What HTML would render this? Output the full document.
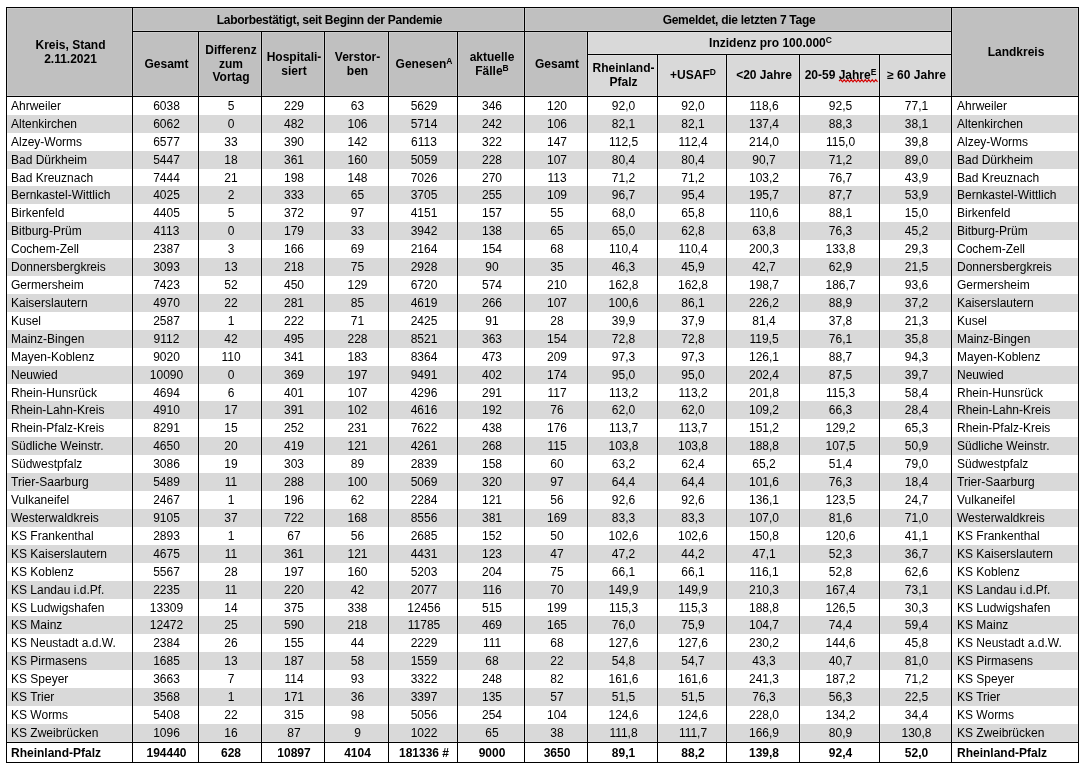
<!DOCTYPE html>
<html><head><meta charset="utf-8">
<style>
html,body{margin:0;padding:0;background:#fff;}
body{width:1086px;height:769px;position:relative;overflow:hidden;font-family:"Liberation Sans",sans-serif;font-size:12px;color:#000;}
.r{position:absolute;}
#w{position:absolute;left:0;top:0;width:1086px;height:769px;will-change:transform;}
.t{position:absolute;display:flex;align-items:center;box-sizing:border-box;line-height:13.8px;white-space:nowrap;}
.t>span{display:block;}
.b{font-weight:bold;}
.cal{font-weight:bold;letter-spacing:-0.28px;}
sup{font-size:8.5px;font-weight:bold;line-height:0;vertical-align:4px;}
</style></head><body><div id="w">
<div class="r" style="left:7px;top:8px;width:125px;height:88px;background:#c0c0c0;"></div>
<div class="r" style="left:133px;top:8px;width:818px;height:23px;background:#c0c0c0;"></div>
<div class="r" style="left:133px;top:32px;width:454px;height:64px;background:#c0c0c0;"></div>
<div class="r" style="left:588px;top:32px;width:363px;height:64px;background:#d9d9d9;"></div>
<div class="r" style="left:952px;top:8px;width:126px;height:88px;background:#c0c0c0;"></div>
<div class="r" style="left:7px;top:115px;width:125px;height:18px;background:#d9d9d9;"></div>
<div class="r" style="left:133px;top:115px;width:65px;height:18px;background:#d9d9d9;"></div>
<div class="r" style="left:199px;top:115px;width:62px;height:18px;background:#d9d9d9;"></div>
<div class="r" style="left:262px;top:115px;width:62px;height:18px;background:#d9d9d9;"></div>
<div class="r" style="left:325px;top:115px;width:63px;height:18px;background:#d9d9d9;"></div>
<div class="r" style="left:389px;top:115px;width:68px;height:18px;background:#d9d9d9;"></div>
<div class="r" style="left:458px;top:115px;width:66px;height:18px;background:#d9d9d9;"></div>
<div class="r" style="left:525px;top:115px;width:62px;height:18px;background:#d9d9d9;"></div>
<div class="r" style="left:588px;top:115px;width:69px;height:18px;background:#d9d9d9;"></div>
<div class="r" style="left:658px;top:115px;width:68px;height:18px;background:#d9d9d9;"></div>
<div class="r" style="left:727px;top:115px;width:72px;height:18px;background:#d9d9d9;"></div>
<div class="r" style="left:800px;top:115px;width:79px;height:18px;background:#d9d9d9;"></div>
<div class="r" style="left:880px;top:115px;width:71px;height:18px;background:#d9d9d9;"></div>
<div class="r" style="left:952px;top:115px;width:126px;height:18px;background:#d9d9d9;"></div>
<div class="r" style="left:7px;top:151px;width:125px;height:18px;background:#d9d9d9;"></div>
<div class="r" style="left:133px;top:151px;width:65px;height:18px;background:#d9d9d9;"></div>
<div class="r" style="left:199px;top:151px;width:62px;height:18px;background:#d9d9d9;"></div>
<div class="r" style="left:262px;top:151px;width:62px;height:18px;background:#d9d9d9;"></div>
<div class="r" style="left:325px;top:151px;width:63px;height:18px;background:#d9d9d9;"></div>
<div class="r" style="left:389px;top:151px;width:68px;height:18px;background:#d9d9d9;"></div>
<div class="r" style="left:458px;top:151px;width:66px;height:18px;background:#d9d9d9;"></div>
<div class="r" style="left:525px;top:151px;width:62px;height:18px;background:#d9d9d9;"></div>
<div class="r" style="left:588px;top:151px;width:69px;height:18px;background:#d9d9d9;"></div>
<div class="r" style="left:658px;top:151px;width:68px;height:18px;background:#d9d9d9;"></div>
<div class="r" style="left:727px;top:151px;width:72px;height:18px;background:#d9d9d9;"></div>
<div class="r" style="left:800px;top:151px;width:79px;height:18px;background:#d9d9d9;"></div>
<div class="r" style="left:880px;top:151px;width:71px;height:18px;background:#d9d9d9;"></div>
<div class="r" style="left:952px;top:151px;width:126px;height:18px;background:#d9d9d9;"></div>
<div class="r" style="left:7px;top:186px;width:125px;height:18px;background:#d9d9d9;"></div>
<div class="r" style="left:133px;top:186px;width:65px;height:18px;background:#d9d9d9;"></div>
<div class="r" style="left:199px;top:186px;width:62px;height:18px;background:#d9d9d9;"></div>
<div class="r" style="left:262px;top:186px;width:62px;height:18px;background:#d9d9d9;"></div>
<div class="r" style="left:325px;top:186px;width:63px;height:18px;background:#d9d9d9;"></div>
<div class="r" style="left:389px;top:186px;width:68px;height:18px;background:#d9d9d9;"></div>
<div class="r" style="left:458px;top:186px;width:66px;height:18px;background:#d9d9d9;"></div>
<div class="r" style="left:525px;top:186px;width:62px;height:18px;background:#d9d9d9;"></div>
<div class="r" style="left:588px;top:186px;width:69px;height:18px;background:#d9d9d9;"></div>
<div class="r" style="left:658px;top:186px;width:68px;height:18px;background:#d9d9d9;"></div>
<div class="r" style="left:727px;top:186px;width:72px;height:18px;background:#d9d9d9;"></div>
<div class="r" style="left:800px;top:186px;width:79px;height:18px;background:#d9d9d9;"></div>
<div class="r" style="left:880px;top:186px;width:71px;height:18px;background:#d9d9d9;"></div>
<div class="r" style="left:952px;top:186px;width:126px;height:18px;background:#d9d9d9;"></div>
<div class="r" style="left:7px;top:222px;width:125px;height:18px;background:#d9d9d9;"></div>
<div class="r" style="left:133px;top:222px;width:65px;height:18px;background:#d9d9d9;"></div>
<div class="r" style="left:199px;top:222px;width:62px;height:18px;background:#d9d9d9;"></div>
<div class="r" style="left:262px;top:222px;width:62px;height:18px;background:#d9d9d9;"></div>
<div class="r" style="left:325px;top:222px;width:63px;height:18px;background:#d9d9d9;"></div>
<div class="r" style="left:389px;top:222px;width:68px;height:18px;background:#d9d9d9;"></div>
<div class="r" style="left:458px;top:222px;width:66px;height:18px;background:#d9d9d9;"></div>
<div class="r" style="left:525px;top:222px;width:62px;height:18px;background:#d9d9d9;"></div>
<div class="r" style="left:588px;top:222px;width:69px;height:18px;background:#d9d9d9;"></div>
<div class="r" style="left:658px;top:222px;width:68px;height:18px;background:#d9d9d9;"></div>
<div class="r" style="left:727px;top:222px;width:72px;height:18px;background:#d9d9d9;"></div>
<div class="r" style="left:800px;top:222px;width:79px;height:18px;background:#d9d9d9;"></div>
<div class="r" style="left:880px;top:222px;width:71px;height:18px;background:#d9d9d9;"></div>
<div class="r" style="left:952px;top:222px;width:126px;height:18px;background:#d9d9d9;"></div>
<div class="r" style="left:7px;top:258px;width:125px;height:18px;background:#d9d9d9;"></div>
<div class="r" style="left:133px;top:258px;width:65px;height:18px;background:#d9d9d9;"></div>
<div class="r" style="left:199px;top:258px;width:62px;height:18px;background:#d9d9d9;"></div>
<div class="r" style="left:262px;top:258px;width:62px;height:18px;background:#d9d9d9;"></div>
<div class="r" style="left:325px;top:258px;width:63px;height:18px;background:#d9d9d9;"></div>
<div class="r" style="left:389px;top:258px;width:68px;height:18px;background:#d9d9d9;"></div>
<div class="r" style="left:458px;top:258px;width:66px;height:18px;background:#d9d9d9;"></div>
<div class="r" style="left:525px;top:258px;width:62px;height:18px;background:#d9d9d9;"></div>
<div class="r" style="left:588px;top:258px;width:69px;height:18px;background:#d9d9d9;"></div>
<div class="r" style="left:658px;top:258px;width:68px;height:18px;background:#d9d9d9;"></div>
<div class="r" style="left:727px;top:258px;width:72px;height:18px;background:#d9d9d9;"></div>
<div class="r" style="left:800px;top:258px;width:79px;height:18px;background:#d9d9d9;"></div>
<div class="r" style="left:880px;top:258px;width:71px;height:18px;background:#d9d9d9;"></div>
<div class="r" style="left:952px;top:258px;width:126px;height:18px;background:#d9d9d9;"></div>
<div class="r" style="left:7px;top:294px;width:125px;height:18px;background:#d9d9d9;"></div>
<div class="r" style="left:133px;top:294px;width:65px;height:18px;background:#d9d9d9;"></div>
<div class="r" style="left:199px;top:294px;width:62px;height:18px;background:#d9d9d9;"></div>
<div class="r" style="left:262px;top:294px;width:62px;height:18px;background:#d9d9d9;"></div>
<div class="r" style="left:325px;top:294px;width:63px;height:18px;background:#d9d9d9;"></div>
<div class="r" style="left:389px;top:294px;width:68px;height:18px;background:#d9d9d9;"></div>
<div class="r" style="left:458px;top:294px;width:66px;height:18px;background:#d9d9d9;"></div>
<div class="r" style="left:525px;top:294px;width:62px;height:18px;background:#d9d9d9;"></div>
<div class="r" style="left:588px;top:294px;width:69px;height:18px;background:#d9d9d9;"></div>
<div class="r" style="left:658px;top:294px;width:68px;height:18px;background:#d9d9d9;"></div>
<div class="r" style="left:727px;top:294px;width:72px;height:18px;background:#d9d9d9;"></div>
<div class="r" style="left:800px;top:294px;width:79px;height:18px;background:#d9d9d9;"></div>
<div class="r" style="left:880px;top:294px;width:71px;height:18px;background:#d9d9d9;"></div>
<div class="r" style="left:952px;top:294px;width:126px;height:18px;background:#d9d9d9;"></div>
<div class="r" style="left:7px;top:330px;width:125px;height:18px;background:#d9d9d9;"></div>
<div class="r" style="left:133px;top:330px;width:65px;height:18px;background:#d9d9d9;"></div>
<div class="r" style="left:199px;top:330px;width:62px;height:18px;background:#d9d9d9;"></div>
<div class="r" style="left:262px;top:330px;width:62px;height:18px;background:#d9d9d9;"></div>
<div class="r" style="left:325px;top:330px;width:63px;height:18px;background:#d9d9d9;"></div>
<div class="r" style="left:389px;top:330px;width:68px;height:18px;background:#d9d9d9;"></div>
<div class="r" style="left:458px;top:330px;width:66px;height:18px;background:#d9d9d9;"></div>
<div class="r" style="left:525px;top:330px;width:62px;height:18px;background:#d9d9d9;"></div>
<div class="r" style="left:588px;top:330px;width:69px;height:18px;background:#d9d9d9;"></div>
<div class="r" style="left:658px;top:330px;width:68px;height:18px;background:#d9d9d9;"></div>
<div class="r" style="left:727px;top:330px;width:72px;height:18px;background:#d9d9d9;"></div>
<div class="r" style="left:800px;top:330px;width:79px;height:18px;background:#d9d9d9;"></div>
<div class="r" style="left:880px;top:330px;width:71px;height:18px;background:#d9d9d9;"></div>
<div class="r" style="left:952px;top:330px;width:126px;height:18px;background:#d9d9d9;"></div>
<div class="r" style="left:7px;top:366px;width:125px;height:18px;background:#d9d9d9;"></div>
<div class="r" style="left:133px;top:366px;width:65px;height:18px;background:#d9d9d9;"></div>
<div class="r" style="left:199px;top:366px;width:62px;height:18px;background:#d9d9d9;"></div>
<div class="r" style="left:262px;top:366px;width:62px;height:18px;background:#d9d9d9;"></div>
<div class="r" style="left:325px;top:366px;width:63px;height:18px;background:#d9d9d9;"></div>
<div class="r" style="left:389px;top:366px;width:68px;height:18px;background:#d9d9d9;"></div>
<div class="r" style="left:458px;top:366px;width:66px;height:18px;background:#d9d9d9;"></div>
<div class="r" style="left:525px;top:366px;width:62px;height:18px;background:#d9d9d9;"></div>
<div class="r" style="left:588px;top:366px;width:69px;height:18px;background:#d9d9d9;"></div>
<div class="r" style="left:658px;top:366px;width:68px;height:18px;background:#d9d9d9;"></div>
<div class="r" style="left:727px;top:366px;width:72px;height:18px;background:#d9d9d9;"></div>
<div class="r" style="left:800px;top:366px;width:79px;height:18px;background:#d9d9d9;"></div>
<div class="r" style="left:880px;top:366px;width:71px;height:18px;background:#d9d9d9;"></div>
<div class="r" style="left:952px;top:366px;width:126px;height:18px;background:#d9d9d9;"></div>
<div class="r" style="left:7px;top:401px;width:125px;height:18px;background:#d9d9d9;"></div>
<div class="r" style="left:133px;top:401px;width:65px;height:18px;background:#d9d9d9;"></div>
<div class="r" style="left:199px;top:401px;width:62px;height:18px;background:#d9d9d9;"></div>
<div class="r" style="left:262px;top:401px;width:62px;height:18px;background:#d9d9d9;"></div>
<div class="r" style="left:325px;top:401px;width:63px;height:18px;background:#d9d9d9;"></div>
<div class="r" style="left:389px;top:401px;width:68px;height:18px;background:#d9d9d9;"></div>
<div class="r" style="left:458px;top:401px;width:66px;height:18px;background:#d9d9d9;"></div>
<div class="r" style="left:525px;top:401px;width:62px;height:18px;background:#d9d9d9;"></div>
<div class="r" style="left:588px;top:401px;width:69px;height:18px;background:#d9d9d9;"></div>
<div class="r" style="left:658px;top:401px;width:68px;height:18px;background:#d9d9d9;"></div>
<div class="r" style="left:727px;top:401px;width:72px;height:18px;background:#d9d9d9;"></div>
<div class="r" style="left:800px;top:401px;width:79px;height:18px;background:#d9d9d9;"></div>
<div class="r" style="left:880px;top:401px;width:71px;height:18px;background:#d9d9d9;"></div>
<div class="r" style="left:952px;top:401px;width:126px;height:18px;background:#d9d9d9;"></div>
<div class="r" style="left:7px;top:437px;width:125px;height:18px;background:#d9d9d9;"></div>
<div class="r" style="left:133px;top:437px;width:65px;height:18px;background:#d9d9d9;"></div>
<div class="r" style="left:199px;top:437px;width:62px;height:18px;background:#d9d9d9;"></div>
<div class="r" style="left:262px;top:437px;width:62px;height:18px;background:#d9d9d9;"></div>
<div class="r" style="left:325px;top:437px;width:63px;height:18px;background:#d9d9d9;"></div>
<div class="r" style="left:389px;top:437px;width:68px;height:18px;background:#d9d9d9;"></div>
<div class="r" style="left:458px;top:437px;width:66px;height:18px;background:#d9d9d9;"></div>
<div class="r" style="left:525px;top:437px;width:62px;height:18px;background:#d9d9d9;"></div>
<div class="r" style="left:588px;top:437px;width:69px;height:18px;background:#d9d9d9;"></div>
<div class="r" style="left:658px;top:437px;width:68px;height:18px;background:#d9d9d9;"></div>
<div class="r" style="left:727px;top:437px;width:72px;height:18px;background:#d9d9d9;"></div>
<div class="r" style="left:800px;top:437px;width:79px;height:18px;background:#d9d9d9;"></div>
<div class="r" style="left:880px;top:437px;width:71px;height:18px;background:#d9d9d9;"></div>
<div class="r" style="left:952px;top:437px;width:126px;height:18px;background:#d9d9d9;"></div>
<div class="r" style="left:7px;top:473px;width:125px;height:18px;background:#d9d9d9;"></div>
<div class="r" style="left:133px;top:473px;width:65px;height:18px;background:#d9d9d9;"></div>
<div class="r" style="left:199px;top:473px;width:62px;height:18px;background:#d9d9d9;"></div>
<div class="r" style="left:262px;top:473px;width:62px;height:18px;background:#d9d9d9;"></div>
<div class="r" style="left:325px;top:473px;width:63px;height:18px;background:#d9d9d9;"></div>
<div class="r" style="left:389px;top:473px;width:68px;height:18px;background:#d9d9d9;"></div>
<div class="r" style="left:458px;top:473px;width:66px;height:18px;background:#d9d9d9;"></div>
<div class="r" style="left:525px;top:473px;width:62px;height:18px;background:#d9d9d9;"></div>
<div class="r" style="left:588px;top:473px;width:69px;height:18px;background:#d9d9d9;"></div>
<div class="r" style="left:658px;top:473px;width:68px;height:18px;background:#d9d9d9;"></div>
<div class="r" style="left:727px;top:473px;width:72px;height:18px;background:#d9d9d9;"></div>
<div class="r" style="left:800px;top:473px;width:79px;height:18px;background:#d9d9d9;"></div>
<div class="r" style="left:880px;top:473px;width:71px;height:18px;background:#d9d9d9;"></div>
<div class="r" style="left:952px;top:473px;width:126px;height:18px;background:#d9d9d9;"></div>
<div class="r" style="left:7px;top:509px;width:125px;height:18px;background:#d9d9d9;"></div>
<div class="r" style="left:133px;top:509px;width:65px;height:18px;background:#d9d9d9;"></div>
<div class="r" style="left:199px;top:509px;width:62px;height:18px;background:#d9d9d9;"></div>
<div class="r" style="left:262px;top:509px;width:62px;height:18px;background:#d9d9d9;"></div>
<div class="r" style="left:325px;top:509px;width:63px;height:18px;background:#d9d9d9;"></div>
<div class="r" style="left:389px;top:509px;width:68px;height:18px;background:#d9d9d9;"></div>
<div class="r" style="left:458px;top:509px;width:66px;height:18px;background:#d9d9d9;"></div>
<div class="r" style="left:525px;top:509px;width:62px;height:18px;background:#d9d9d9;"></div>
<div class="r" style="left:588px;top:509px;width:69px;height:18px;background:#d9d9d9;"></div>
<div class="r" style="left:658px;top:509px;width:68px;height:18px;background:#d9d9d9;"></div>
<div class="r" style="left:727px;top:509px;width:72px;height:18px;background:#d9d9d9;"></div>
<div class="r" style="left:800px;top:509px;width:79px;height:18px;background:#d9d9d9;"></div>
<div class="r" style="left:880px;top:509px;width:71px;height:18px;background:#d9d9d9;"></div>
<div class="r" style="left:952px;top:509px;width:126px;height:18px;background:#d9d9d9;"></div>
<div class="r" style="left:7px;top:545px;width:125px;height:18px;background:#d9d9d9;"></div>
<div class="r" style="left:133px;top:545px;width:65px;height:18px;background:#d9d9d9;"></div>
<div class="r" style="left:199px;top:545px;width:62px;height:18px;background:#d9d9d9;"></div>
<div class="r" style="left:262px;top:545px;width:62px;height:18px;background:#d9d9d9;"></div>
<div class="r" style="left:325px;top:545px;width:63px;height:18px;background:#d9d9d9;"></div>
<div class="r" style="left:389px;top:545px;width:68px;height:18px;background:#d9d9d9;"></div>
<div class="r" style="left:458px;top:545px;width:66px;height:18px;background:#d9d9d9;"></div>
<div class="r" style="left:525px;top:545px;width:62px;height:18px;background:#d9d9d9;"></div>
<div class="r" style="left:588px;top:545px;width:69px;height:18px;background:#d9d9d9;"></div>
<div class="r" style="left:658px;top:545px;width:68px;height:18px;background:#d9d9d9;"></div>
<div class="r" style="left:727px;top:545px;width:72px;height:18px;background:#d9d9d9;"></div>
<div class="r" style="left:800px;top:545px;width:79px;height:18px;background:#d9d9d9;"></div>
<div class="r" style="left:880px;top:545px;width:71px;height:18px;background:#d9d9d9;"></div>
<div class="r" style="left:952px;top:545px;width:126px;height:18px;background:#d9d9d9;"></div>
<div class="r" style="left:7px;top:581px;width:125px;height:18px;background:#d9d9d9;"></div>
<div class="r" style="left:133px;top:581px;width:65px;height:18px;background:#d9d9d9;"></div>
<div class="r" style="left:199px;top:581px;width:62px;height:18px;background:#d9d9d9;"></div>
<div class="r" style="left:262px;top:581px;width:62px;height:18px;background:#d9d9d9;"></div>
<div class="r" style="left:325px;top:581px;width:63px;height:18px;background:#d9d9d9;"></div>
<div class="r" style="left:389px;top:581px;width:68px;height:18px;background:#d9d9d9;"></div>
<div class="r" style="left:458px;top:581px;width:66px;height:18px;background:#d9d9d9;"></div>
<div class="r" style="left:525px;top:581px;width:62px;height:18px;background:#d9d9d9;"></div>
<div class="r" style="left:588px;top:581px;width:69px;height:18px;background:#d9d9d9;"></div>
<div class="r" style="left:658px;top:581px;width:68px;height:18px;background:#d9d9d9;"></div>
<div class="r" style="left:727px;top:581px;width:72px;height:18px;background:#d9d9d9;"></div>
<div class="r" style="left:800px;top:581px;width:79px;height:18px;background:#d9d9d9;"></div>
<div class="r" style="left:880px;top:581px;width:71px;height:18px;background:#d9d9d9;"></div>
<div class="r" style="left:952px;top:581px;width:126px;height:18px;background:#d9d9d9;"></div>
<div class="r" style="left:7px;top:616px;width:125px;height:18px;background:#d9d9d9;"></div>
<div class="r" style="left:133px;top:616px;width:65px;height:18px;background:#d9d9d9;"></div>
<div class="r" style="left:199px;top:616px;width:62px;height:18px;background:#d9d9d9;"></div>
<div class="r" style="left:262px;top:616px;width:62px;height:18px;background:#d9d9d9;"></div>
<div class="r" style="left:325px;top:616px;width:63px;height:18px;background:#d9d9d9;"></div>
<div class="r" style="left:389px;top:616px;width:68px;height:18px;background:#d9d9d9;"></div>
<div class="r" style="left:458px;top:616px;width:66px;height:18px;background:#d9d9d9;"></div>
<div class="r" style="left:525px;top:616px;width:62px;height:18px;background:#d9d9d9;"></div>
<div class="r" style="left:588px;top:616px;width:69px;height:18px;background:#d9d9d9;"></div>
<div class="r" style="left:658px;top:616px;width:68px;height:18px;background:#d9d9d9;"></div>
<div class="r" style="left:727px;top:616px;width:72px;height:18px;background:#d9d9d9;"></div>
<div class="r" style="left:800px;top:616px;width:79px;height:18px;background:#d9d9d9;"></div>
<div class="r" style="left:880px;top:616px;width:71px;height:18px;background:#d9d9d9;"></div>
<div class="r" style="left:952px;top:616px;width:126px;height:18px;background:#d9d9d9;"></div>
<div class="r" style="left:7px;top:652px;width:125px;height:18px;background:#d9d9d9;"></div>
<div class="r" style="left:133px;top:652px;width:65px;height:18px;background:#d9d9d9;"></div>
<div class="r" style="left:199px;top:652px;width:62px;height:18px;background:#d9d9d9;"></div>
<div class="r" style="left:262px;top:652px;width:62px;height:18px;background:#d9d9d9;"></div>
<div class="r" style="left:325px;top:652px;width:63px;height:18px;background:#d9d9d9;"></div>
<div class="r" style="left:389px;top:652px;width:68px;height:18px;background:#d9d9d9;"></div>
<div class="r" style="left:458px;top:652px;width:66px;height:18px;background:#d9d9d9;"></div>
<div class="r" style="left:525px;top:652px;width:62px;height:18px;background:#d9d9d9;"></div>
<div class="r" style="left:588px;top:652px;width:69px;height:18px;background:#d9d9d9;"></div>
<div class="r" style="left:658px;top:652px;width:68px;height:18px;background:#d9d9d9;"></div>
<div class="r" style="left:727px;top:652px;width:72px;height:18px;background:#d9d9d9;"></div>
<div class="r" style="left:800px;top:652px;width:79px;height:18px;background:#d9d9d9;"></div>
<div class="r" style="left:880px;top:652px;width:71px;height:18px;background:#d9d9d9;"></div>
<div class="r" style="left:952px;top:652px;width:126px;height:18px;background:#d9d9d9;"></div>
<div class="r" style="left:7px;top:688px;width:125px;height:18px;background:#d9d9d9;"></div>
<div class="r" style="left:133px;top:688px;width:65px;height:18px;background:#d9d9d9;"></div>
<div class="r" style="left:199px;top:688px;width:62px;height:18px;background:#d9d9d9;"></div>
<div class="r" style="left:262px;top:688px;width:62px;height:18px;background:#d9d9d9;"></div>
<div class="r" style="left:325px;top:688px;width:63px;height:18px;background:#d9d9d9;"></div>
<div class="r" style="left:389px;top:688px;width:68px;height:18px;background:#d9d9d9;"></div>
<div class="r" style="left:458px;top:688px;width:66px;height:18px;background:#d9d9d9;"></div>
<div class="r" style="left:525px;top:688px;width:62px;height:18px;background:#d9d9d9;"></div>
<div class="r" style="left:588px;top:688px;width:69px;height:18px;background:#d9d9d9;"></div>
<div class="r" style="left:658px;top:688px;width:68px;height:18px;background:#d9d9d9;"></div>
<div class="r" style="left:727px;top:688px;width:72px;height:18px;background:#d9d9d9;"></div>
<div class="r" style="left:800px;top:688px;width:79px;height:18px;background:#d9d9d9;"></div>
<div class="r" style="left:880px;top:688px;width:71px;height:18px;background:#d9d9d9;"></div>
<div class="r" style="left:952px;top:688px;width:126px;height:18px;background:#d9d9d9;"></div>
<div class="r" style="left:7px;top:724px;width:125px;height:18px;background:#d9d9d9;"></div>
<div class="r" style="left:133px;top:724px;width:65px;height:18px;background:#d9d9d9;"></div>
<div class="r" style="left:199px;top:724px;width:62px;height:18px;background:#d9d9d9;"></div>
<div class="r" style="left:262px;top:724px;width:62px;height:18px;background:#d9d9d9;"></div>
<div class="r" style="left:325px;top:724px;width:63px;height:18px;background:#d9d9d9;"></div>
<div class="r" style="left:389px;top:724px;width:68px;height:18px;background:#d9d9d9;"></div>
<div class="r" style="left:458px;top:724px;width:66px;height:18px;background:#d9d9d9;"></div>
<div class="r" style="left:525px;top:724px;width:62px;height:18px;background:#d9d9d9;"></div>
<div class="r" style="left:588px;top:724px;width:69px;height:18px;background:#d9d9d9;"></div>
<div class="r" style="left:658px;top:724px;width:68px;height:18px;background:#d9d9d9;"></div>
<div class="r" style="left:727px;top:724px;width:72px;height:18px;background:#d9d9d9;"></div>
<div class="r" style="left:800px;top:724px;width:79px;height:18px;background:#d9d9d9;"></div>
<div class="r" style="left:880px;top:724px;width:71px;height:18px;background:#d9d9d9;"></div>
<div class="r" style="left:952px;top:724px;width:126px;height:18px;background:#d9d9d9;"></div>
<div class="r" style="left:6px;top:6px;width:1073px;height:3px;background:rgba(255,255,255,0.2);"></div>
<div class="r" style="left:6px;top:95px;width:1073px;height:3px;background:rgba(255,255,255,0.2);"></div>
<div class="r" style="left:6px;top:741px;width:1073px;height:3px;background:rgba(255,255,255,0.2);"></div>
<div class="r" style="left:6px;top:761px;width:1073px;height:3px;background:rgba(255,255,255,0.2);"></div>
<div class="r" style="left:132px;top:30px;width:820px;height:3px;background:rgba(255,255,255,0.2);"></div>
<div class="r" style="left:587px;top:53px;width:365px;height:3px;background:rgba(255,255,255,0.2);"></div>
<div class="r" style="left:5px;top:7px;width:3px;height:756px;background:rgba(255,255,255,0.2);"></div>
<div class="r" style="left:131px;top:7px;width:3px;height:756px;background:rgba(255,255,255,0.2);"></div>
<div class="r" style="left:523px;top:7px;width:3px;height:756px;background:rgba(255,255,255,0.2);"></div>
<div class="r" style="left:950px;top:7px;width:3px;height:756px;background:rgba(255,255,255,0.2);"></div>
<div class="r" style="left:1077px;top:7px;width:3px;height:756px;background:rgba(255,255,255,0.2);"></div>
<div class="r" style="left:197px;top:31px;width:3px;height:732px;background:rgba(255,255,255,0.2);"></div>
<div class="r" style="left:260px;top:31px;width:3px;height:732px;background:rgba(255,255,255,0.2);"></div>
<div class="r" style="left:323px;top:31px;width:3px;height:732px;background:rgba(255,255,255,0.2);"></div>
<div class="r" style="left:387px;top:31px;width:3px;height:732px;background:rgba(255,255,255,0.2);"></div>
<div class="r" style="left:456px;top:31px;width:3px;height:732px;background:rgba(255,255,255,0.2);"></div>
<div class="r" style="left:586px;top:31px;width:3px;height:732px;background:rgba(255,255,255,0.2);"></div>
<div class="r" style="left:656px;top:54px;width:3px;height:709px;background:rgba(255,255,255,0.2);"></div>
<div class="r" style="left:725px;top:54px;width:3px;height:709px;background:rgba(255,255,255,0.2);"></div>
<div class="r" style="left:798px;top:54px;width:3px;height:709px;background:rgba(255,255,255,0.2);"></div>
<div class="r" style="left:878px;top:54px;width:3px;height:709px;background:rgba(255,255,255,0.2);"></div>
<div class="r" style="left:6px;top:7px;width:1073px;height:1px;background:#000;"></div>
<div class="r" style="left:6px;top:96px;width:1073px;height:1px;background:#000;"></div>
<div class="r" style="left:6px;top:742px;width:1073px;height:1px;background:#000;"></div>
<div class="r" style="left:6px;top:762px;width:1073px;height:1px;background:#000;"></div>
<div class="r" style="left:132px;top:31px;width:820px;height:1px;background:#000;"></div>
<div class="r" style="left:587px;top:54px;width:365px;height:1px;background:#000;"></div>
<div class="r" style="left:6px;top:7px;width:1px;height:756px;background:#000;"></div>
<div class="r" style="left:132px;top:7px;width:1px;height:756px;background:#000;"></div>
<div class="r" style="left:524px;top:7px;width:1px;height:756px;background:#000;"></div>
<div class="r" style="left:951px;top:7px;width:1px;height:756px;background:#000;"></div>
<div class="r" style="left:1078px;top:7px;width:1px;height:756px;background:#000;"></div>
<div class="r" style="left:198px;top:31px;width:1px;height:732px;background:#000;"></div>
<div class="r" style="left:261px;top:31px;width:1px;height:732px;background:#000;"></div>
<div class="r" style="left:324px;top:31px;width:1px;height:732px;background:#000;"></div>
<div class="r" style="left:388px;top:31px;width:1px;height:732px;background:#000;"></div>
<div class="r" style="left:457px;top:31px;width:1px;height:732px;background:#000;"></div>
<div class="r" style="left:587px;top:31px;width:1px;height:732px;background:#000;"></div>
<div class="r" style="left:657px;top:54px;width:1px;height:709px;background:#000;"></div>
<div class="r" style="left:726px;top:54px;width:1px;height:709px;background:#000;"></div>
<div class="r" style="left:799px;top:54px;width:1px;height:709px;background:#000;"></div>
<div class="r" style="left:879px;top:54px;width:1px;height:709px;background:#000;"></div>
<div class="t b" style="left:8px;top:9px;width:125px;height:88px;justify-content:center;padding-left:0px;text-align:center"><span>Kreis, Stand<br>2.11.2021</span></div>
<div class="t b" style="left:953px;top:9px;width:126px;height:88px;justify-content:center;padding-left:0px;text-align:center"><span>Landkreis</span></div>
<div class="t cal" style="left:134px;top:9px;width:391px;height:23px;justify-content:center;padding-left:0px;text-align:center"><span>Laborbestätigt, seit Beginn der Pandemie</span></div>
<div class="t cal" style="left:526px;top:9px;width:426px;height:23px;justify-content:center;padding-left:0px;text-align:center"><span>Gemeldet, die letzten 7 Tage</span></div>
<div class="t b" style="left:134px;top:33px;width:65px;height:64px;justify-content:center;padding-left:0px;text-align:center"><span>Gesamt</span></div>
<div class="t b" style="left:200px;top:33px;width:62px;height:64px;justify-content:center;padding-left:0px;text-align:center"><span>Differenz<br>zum<br><span style="position:relative;top:-1px">Vortag</span></span></div>
<div class="t b" style="left:263px;top:33px;width:62px;height:64px;justify-content:center;padding-left:0px;text-align:center"><span>Hospitali-<br>siert</span></div>
<div class="t b" style="left:326px;top:33px;width:63px;height:64px;justify-content:center;padding-left:0px;text-align:center"><span>Verstor-<br>ben</span></div>
<div class="t b" style="left:390px;top:33px;width:68px;height:64px;justify-content:center;padding-left:0px;text-align:center"><span>Genesen<sup>A</sup></span></div>
<div class="t b" style="left:459px;top:33px;width:66px;height:64px;justify-content:center;padding-left:0px;text-align:center"><span>aktuelle<br>Fälle<sup>B</sup></span></div>
<div class="t b" style="left:526px;top:33px;width:62px;height:64px;justify-content:center;padding-left:0px;text-align:center"><span>Gesamt</span></div>
<div class="t b" style="left:589px;top:33px;width:363px;height:22px;justify-content:center;padding-left:0px;text-align:center"><span>Inzidenz pro 100.000<sup>C</sup></span></div>
<div class="t b" style="left:589px;top:55px;width:69px;height:41px;justify-content:center;padding-left:0px;text-align:center"><span>Rheinland-<br>Pfalz</span></div>
<div class="t b" style="left:659px;top:55px;width:68px;height:41px;justify-content:center;padding-left:0px;text-align:center"><span>+USAF<sup>D</sup></span></div>
<div class="t b" style="left:728px;top:55px;width:72px;height:41px;justify-content:center;padding-left:0px;text-align:center"><span>&lt;20 Jahre</span></div>
<div class="t b" style="left:801px;top:55px;width:79px;height:41px;justify-content:center;padding-left:0px;text-align:center"><span>20-59 <span class="sq">Jahre</span><sup>E</sup></span></div>
<div class="t b" style="left:881px;top:55px;width:71px;height:41px;justify-content:center;padding-left:0px;text-align:center"><span>≥ 60 Jahre</span></div>
<svg style="position:absolute;left:0;top:0" width="1086" height="769"><path d="M839 81 L840.75 79.6 L842.50 81.8 L844.25 79.6 L846.00 81.8 L847.75 79.6 L849.50 81.8 L851.25 79.6 L853.00 81.8 L854.75 79.6 L856.50 81.8 L858.25 79.6 L860.00 81.8 L861.75 79.6 L863.50 81.8 L865.25 79.6 L867.00 81.8 L868.75 79.6 L870.50 81.8 L872.25 79.6 L874.00 81.8 L875.75 79.6 L877.50 81.8" fill="none" stroke="#d40000" stroke-width="1.2"/></svg>
<div class="t " style="left:7px;top:98px;width:125px;height:18px;justify-content:flex-start;padding-left:4px;text-align:left"><span>Ahrweiler</span></div>
<div class="t " style="left:134px;top:98px;width:65px;height:18px;justify-content:center;padding-left:0px;text-align:center"><span>6038</span></div>
<div class="t " style="left:200px;top:98px;width:62px;height:18px;justify-content:center;padding-left:0px;text-align:center"><span>5</span></div>
<div class="t " style="left:263px;top:98px;width:62px;height:18px;justify-content:center;padding-left:0px;text-align:center"><span>229</span></div>
<div class="t " style="left:326px;top:98px;width:63px;height:18px;justify-content:center;padding-left:0px;text-align:center"><span>63</span></div>
<div class="t " style="left:390px;top:98px;width:68px;height:18px;justify-content:center;padding-left:0px;text-align:center"><span>5629</span></div>
<div class="t " style="left:459px;top:98px;width:66px;height:18px;justify-content:center;padding-left:0px;text-align:center"><span>346</span></div>
<div class="t " style="left:526px;top:98px;width:62px;height:18px;justify-content:center;padding-left:0px;text-align:center"><span>120</span></div>
<div class="t " style="left:589px;top:98px;width:69px;height:18px;justify-content:center;padding-left:0px;text-align:center"><span>92,0</span></div>
<div class="t " style="left:659px;top:98px;width:68px;height:18px;justify-content:center;padding-left:0px;text-align:center"><span>92,0</span></div>
<div class="t " style="left:728px;top:98px;width:72px;height:18px;justify-content:center;padding-left:0px;text-align:center"><span>118,6</span></div>
<div class="t " style="left:801px;top:98px;width:79px;height:18px;justify-content:center;padding-left:0px;text-align:center"><span>92,5</span></div>
<div class="t " style="left:881px;top:98px;width:71px;height:18px;justify-content:center;padding-left:0px;text-align:center"><span>77,1</span></div>
<div class="t " style="left:952px;top:98px;width:126px;height:18px;justify-content:flex-start;padding-left:5px;text-align:left"><span>Ahrweiler</span></div>
<div class="t " style="left:7px;top:116px;width:125px;height:18px;justify-content:flex-start;padding-left:4px;text-align:left"><span>Altenkirchen</span></div>
<div class="t " style="left:134px;top:116px;width:65px;height:18px;justify-content:center;padding-left:0px;text-align:center"><span>6062</span></div>
<div class="t " style="left:200px;top:116px;width:62px;height:18px;justify-content:center;padding-left:0px;text-align:center"><span>0</span></div>
<div class="t " style="left:263px;top:116px;width:62px;height:18px;justify-content:center;padding-left:0px;text-align:center"><span>482</span></div>
<div class="t " style="left:326px;top:116px;width:63px;height:18px;justify-content:center;padding-left:0px;text-align:center"><span>106</span></div>
<div class="t " style="left:390px;top:116px;width:68px;height:18px;justify-content:center;padding-left:0px;text-align:center"><span>5714</span></div>
<div class="t " style="left:459px;top:116px;width:66px;height:18px;justify-content:center;padding-left:0px;text-align:center"><span>242</span></div>
<div class="t " style="left:526px;top:116px;width:62px;height:18px;justify-content:center;padding-left:0px;text-align:center"><span>106</span></div>
<div class="t " style="left:589px;top:116px;width:69px;height:18px;justify-content:center;padding-left:0px;text-align:center"><span>82,1</span></div>
<div class="t " style="left:659px;top:116px;width:68px;height:18px;justify-content:center;padding-left:0px;text-align:center"><span>82,1</span></div>
<div class="t " style="left:728px;top:116px;width:72px;height:18px;justify-content:center;padding-left:0px;text-align:center"><span>137,4</span></div>
<div class="t " style="left:801px;top:116px;width:79px;height:18px;justify-content:center;padding-left:0px;text-align:center"><span>88,3</span></div>
<div class="t " style="left:881px;top:116px;width:71px;height:18px;justify-content:center;padding-left:0px;text-align:center"><span>38,1</span></div>
<div class="t " style="left:952px;top:116px;width:126px;height:18px;justify-content:flex-start;padding-left:5px;text-align:left"><span>Altenkirchen</span></div>
<div class="t " style="left:7px;top:134px;width:125px;height:18px;justify-content:flex-start;padding-left:4px;text-align:left"><span>Alzey-Worms</span></div>
<div class="t " style="left:134px;top:134px;width:65px;height:18px;justify-content:center;padding-left:0px;text-align:center"><span>6577</span></div>
<div class="t " style="left:200px;top:134px;width:62px;height:18px;justify-content:center;padding-left:0px;text-align:center"><span>33</span></div>
<div class="t " style="left:263px;top:134px;width:62px;height:18px;justify-content:center;padding-left:0px;text-align:center"><span>390</span></div>
<div class="t " style="left:326px;top:134px;width:63px;height:18px;justify-content:center;padding-left:0px;text-align:center"><span>142</span></div>
<div class="t " style="left:390px;top:134px;width:68px;height:18px;justify-content:center;padding-left:0px;text-align:center"><span>6113</span></div>
<div class="t " style="left:459px;top:134px;width:66px;height:18px;justify-content:center;padding-left:0px;text-align:center"><span>322</span></div>
<div class="t " style="left:526px;top:134px;width:62px;height:18px;justify-content:center;padding-left:0px;text-align:center"><span>147</span></div>
<div class="t " style="left:589px;top:134px;width:69px;height:18px;justify-content:center;padding-left:0px;text-align:center"><span>112,5</span></div>
<div class="t " style="left:659px;top:134px;width:68px;height:18px;justify-content:center;padding-left:0px;text-align:center"><span>112,4</span></div>
<div class="t " style="left:728px;top:134px;width:72px;height:18px;justify-content:center;padding-left:0px;text-align:center"><span>214,0</span></div>
<div class="t " style="left:801px;top:134px;width:79px;height:18px;justify-content:center;padding-left:0px;text-align:center"><span>115,0</span></div>
<div class="t " style="left:881px;top:134px;width:71px;height:18px;justify-content:center;padding-left:0px;text-align:center"><span>39,8</span></div>
<div class="t " style="left:952px;top:134px;width:126px;height:18px;justify-content:flex-start;padding-left:5px;text-align:left"><span>Alzey-Worms</span></div>
<div class="t " style="left:7px;top:152px;width:125px;height:18px;justify-content:flex-start;padding-left:4px;text-align:left"><span>Bad Dürkheim</span></div>
<div class="t " style="left:134px;top:152px;width:65px;height:18px;justify-content:center;padding-left:0px;text-align:center"><span>5447</span></div>
<div class="t " style="left:200px;top:152px;width:62px;height:18px;justify-content:center;padding-left:0px;text-align:center"><span>18</span></div>
<div class="t " style="left:263px;top:152px;width:62px;height:18px;justify-content:center;padding-left:0px;text-align:center"><span>361</span></div>
<div class="t " style="left:326px;top:152px;width:63px;height:18px;justify-content:center;padding-left:0px;text-align:center"><span>160</span></div>
<div class="t " style="left:390px;top:152px;width:68px;height:18px;justify-content:center;padding-left:0px;text-align:center"><span>5059</span></div>
<div class="t " style="left:459px;top:152px;width:66px;height:18px;justify-content:center;padding-left:0px;text-align:center"><span>228</span></div>
<div class="t " style="left:526px;top:152px;width:62px;height:18px;justify-content:center;padding-left:0px;text-align:center"><span>107</span></div>
<div class="t " style="left:589px;top:152px;width:69px;height:18px;justify-content:center;padding-left:0px;text-align:center"><span>80,4</span></div>
<div class="t " style="left:659px;top:152px;width:68px;height:18px;justify-content:center;padding-left:0px;text-align:center"><span>80,4</span></div>
<div class="t " style="left:728px;top:152px;width:72px;height:18px;justify-content:center;padding-left:0px;text-align:center"><span>90,7</span></div>
<div class="t " style="left:801px;top:152px;width:79px;height:18px;justify-content:center;padding-left:0px;text-align:center"><span>71,2</span></div>
<div class="t " style="left:881px;top:152px;width:71px;height:18px;justify-content:center;padding-left:0px;text-align:center"><span>89,0</span></div>
<div class="t " style="left:952px;top:152px;width:126px;height:18px;justify-content:flex-start;padding-left:5px;text-align:left"><span>Bad Dürkheim</span></div>
<div class="t " style="left:7px;top:170px;width:125px;height:17px;justify-content:flex-start;padding-left:4px;text-align:left"><span>Bad Kreuznach</span></div>
<div class="t " style="left:134px;top:170px;width:65px;height:17px;justify-content:center;padding-left:0px;text-align:center"><span>7444</span></div>
<div class="t " style="left:200px;top:170px;width:62px;height:17px;justify-content:center;padding-left:0px;text-align:center"><span>21</span></div>
<div class="t " style="left:263px;top:170px;width:62px;height:17px;justify-content:center;padding-left:0px;text-align:center"><span>198</span></div>
<div class="t " style="left:326px;top:170px;width:63px;height:17px;justify-content:center;padding-left:0px;text-align:center"><span>148</span></div>
<div class="t " style="left:390px;top:170px;width:68px;height:17px;justify-content:center;padding-left:0px;text-align:center"><span>7026</span></div>
<div class="t " style="left:459px;top:170px;width:66px;height:17px;justify-content:center;padding-left:0px;text-align:center"><span>270</span></div>
<div class="t " style="left:526px;top:170px;width:62px;height:17px;justify-content:center;padding-left:0px;text-align:center"><span>113</span></div>
<div class="t " style="left:589px;top:170px;width:69px;height:17px;justify-content:center;padding-left:0px;text-align:center"><span>71,2</span></div>
<div class="t " style="left:659px;top:170px;width:68px;height:17px;justify-content:center;padding-left:0px;text-align:center"><span>71,2</span></div>
<div class="t " style="left:728px;top:170px;width:72px;height:17px;justify-content:center;padding-left:0px;text-align:center"><span>103,2</span></div>
<div class="t " style="left:801px;top:170px;width:79px;height:17px;justify-content:center;padding-left:0px;text-align:center"><span>76,7</span></div>
<div class="t " style="left:881px;top:170px;width:71px;height:17px;justify-content:center;padding-left:0px;text-align:center"><span>43,9</span></div>
<div class="t " style="left:952px;top:170px;width:126px;height:17px;justify-content:flex-start;padding-left:5px;text-align:left"><span>Bad Kreuznach</span></div>
<div class="t " style="left:7px;top:187px;width:125px;height:18px;justify-content:flex-start;padding-left:4px;text-align:left"><span>Bernkastel-Wittlich</span></div>
<div class="t " style="left:134px;top:187px;width:65px;height:18px;justify-content:center;padding-left:0px;text-align:center"><span>4025</span></div>
<div class="t " style="left:200px;top:187px;width:62px;height:18px;justify-content:center;padding-left:0px;text-align:center"><span>2</span></div>
<div class="t " style="left:263px;top:187px;width:62px;height:18px;justify-content:center;padding-left:0px;text-align:center"><span>333</span></div>
<div class="t " style="left:326px;top:187px;width:63px;height:18px;justify-content:center;padding-left:0px;text-align:center"><span>65</span></div>
<div class="t " style="left:390px;top:187px;width:68px;height:18px;justify-content:center;padding-left:0px;text-align:center"><span>3705</span></div>
<div class="t " style="left:459px;top:187px;width:66px;height:18px;justify-content:center;padding-left:0px;text-align:center"><span>255</span></div>
<div class="t " style="left:526px;top:187px;width:62px;height:18px;justify-content:center;padding-left:0px;text-align:center"><span>109</span></div>
<div class="t " style="left:589px;top:187px;width:69px;height:18px;justify-content:center;padding-left:0px;text-align:center"><span>96,7</span></div>
<div class="t " style="left:659px;top:187px;width:68px;height:18px;justify-content:center;padding-left:0px;text-align:center"><span>95,4</span></div>
<div class="t " style="left:728px;top:187px;width:72px;height:18px;justify-content:center;padding-left:0px;text-align:center"><span>195,7</span></div>
<div class="t " style="left:801px;top:187px;width:79px;height:18px;justify-content:center;padding-left:0px;text-align:center"><span>87,7</span></div>
<div class="t " style="left:881px;top:187px;width:71px;height:18px;justify-content:center;padding-left:0px;text-align:center"><span>53,9</span></div>
<div class="t " style="left:952px;top:187px;width:126px;height:18px;justify-content:flex-start;padding-left:5px;text-align:left"><span>Bernkastel-Wittlich</span></div>
<div class="t " style="left:7px;top:205px;width:125px;height:18px;justify-content:flex-start;padding-left:4px;text-align:left"><span>Birkenfeld</span></div>
<div class="t " style="left:134px;top:205px;width:65px;height:18px;justify-content:center;padding-left:0px;text-align:center"><span>4405</span></div>
<div class="t " style="left:200px;top:205px;width:62px;height:18px;justify-content:center;padding-left:0px;text-align:center"><span>5</span></div>
<div class="t " style="left:263px;top:205px;width:62px;height:18px;justify-content:center;padding-left:0px;text-align:center"><span>372</span></div>
<div class="t " style="left:326px;top:205px;width:63px;height:18px;justify-content:center;padding-left:0px;text-align:center"><span>97</span></div>
<div class="t " style="left:390px;top:205px;width:68px;height:18px;justify-content:center;padding-left:0px;text-align:center"><span>4151</span></div>
<div class="t " style="left:459px;top:205px;width:66px;height:18px;justify-content:center;padding-left:0px;text-align:center"><span>157</span></div>
<div class="t " style="left:526px;top:205px;width:62px;height:18px;justify-content:center;padding-left:0px;text-align:center"><span>55</span></div>
<div class="t " style="left:589px;top:205px;width:69px;height:18px;justify-content:center;padding-left:0px;text-align:center"><span>68,0</span></div>
<div class="t " style="left:659px;top:205px;width:68px;height:18px;justify-content:center;padding-left:0px;text-align:center"><span>65,8</span></div>
<div class="t " style="left:728px;top:205px;width:72px;height:18px;justify-content:center;padding-left:0px;text-align:center"><span>110,6</span></div>
<div class="t " style="left:801px;top:205px;width:79px;height:18px;justify-content:center;padding-left:0px;text-align:center"><span>88,1</span></div>
<div class="t " style="left:881px;top:205px;width:71px;height:18px;justify-content:center;padding-left:0px;text-align:center"><span>15,0</span></div>
<div class="t " style="left:952px;top:205px;width:126px;height:18px;justify-content:flex-start;padding-left:5px;text-align:left"><span>Birkenfeld</span></div>
<div class="t " style="left:7px;top:223px;width:125px;height:18px;justify-content:flex-start;padding-left:4px;text-align:left"><span>Bitburg-Prüm</span></div>
<div class="t " style="left:134px;top:223px;width:65px;height:18px;justify-content:center;padding-left:0px;text-align:center"><span>4113</span></div>
<div class="t " style="left:200px;top:223px;width:62px;height:18px;justify-content:center;padding-left:0px;text-align:center"><span>0</span></div>
<div class="t " style="left:263px;top:223px;width:62px;height:18px;justify-content:center;padding-left:0px;text-align:center"><span>179</span></div>
<div class="t " style="left:326px;top:223px;width:63px;height:18px;justify-content:center;padding-left:0px;text-align:center"><span>33</span></div>
<div class="t " style="left:390px;top:223px;width:68px;height:18px;justify-content:center;padding-left:0px;text-align:center"><span>3942</span></div>
<div class="t " style="left:459px;top:223px;width:66px;height:18px;justify-content:center;padding-left:0px;text-align:center"><span>138</span></div>
<div class="t " style="left:526px;top:223px;width:62px;height:18px;justify-content:center;padding-left:0px;text-align:center"><span>65</span></div>
<div class="t " style="left:589px;top:223px;width:69px;height:18px;justify-content:center;padding-left:0px;text-align:center"><span>65,0</span></div>
<div class="t " style="left:659px;top:223px;width:68px;height:18px;justify-content:center;padding-left:0px;text-align:center"><span>62,8</span></div>
<div class="t " style="left:728px;top:223px;width:72px;height:18px;justify-content:center;padding-left:0px;text-align:center"><span>63,8</span></div>
<div class="t " style="left:801px;top:223px;width:79px;height:18px;justify-content:center;padding-left:0px;text-align:center"><span>76,3</span></div>
<div class="t " style="left:881px;top:223px;width:71px;height:18px;justify-content:center;padding-left:0px;text-align:center"><span>45,2</span></div>
<div class="t " style="left:952px;top:223px;width:126px;height:18px;justify-content:flex-start;padding-left:5px;text-align:left"><span>Bitburg-Prüm</span></div>
<div class="t " style="left:7px;top:241px;width:125px;height:18px;justify-content:flex-start;padding-left:4px;text-align:left"><span>Cochem-Zell</span></div>
<div class="t " style="left:134px;top:241px;width:65px;height:18px;justify-content:center;padding-left:0px;text-align:center"><span>2387</span></div>
<div class="t " style="left:200px;top:241px;width:62px;height:18px;justify-content:center;padding-left:0px;text-align:center"><span>3</span></div>
<div class="t " style="left:263px;top:241px;width:62px;height:18px;justify-content:center;padding-left:0px;text-align:center"><span>166</span></div>
<div class="t " style="left:326px;top:241px;width:63px;height:18px;justify-content:center;padding-left:0px;text-align:center"><span>69</span></div>
<div class="t " style="left:390px;top:241px;width:68px;height:18px;justify-content:center;padding-left:0px;text-align:center"><span>2164</span></div>
<div class="t " style="left:459px;top:241px;width:66px;height:18px;justify-content:center;padding-left:0px;text-align:center"><span>154</span></div>
<div class="t " style="left:526px;top:241px;width:62px;height:18px;justify-content:center;padding-left:0px;text-align:center"><span>68</span></div>
<div class="t " style="left:589px;top:241px;width:69px;height:18px;justify-content:center;padding-left:0px;text-align:center"><span>110,4</span></div>
<div class="t " style="left:659px;top:241px;width:68px;height:18px;justify-content:center;padding-left:0px;text-align:center"><span>110,4</span></div>
<div class="t " style="left:728px;top:241px;width:72px;height:18px;justify-content:center;padding-left:0px;text-align:center"><span>200,3</span></div>
<div class="t " style="left:801px;top:241px;width:79px;height:18px;justify-content:center;padding-left:0px;text-align:center"><span>133,8</span></div>
<div class="t " style="left:881px;top:241px;width:71px;height:18px;justify-content:center;padding-left:0px;text-align:center"><span>29,3</span></div>
<div class="t " style="left:952px;top:241px;width:126px;height:18px;justify-content:flex-start;padding-left:5px;text-align:left"><span>Cochem-Zell</span></div>
<div class="t " style="left:7px;top:259px;width:125px;height:18px;justify-content:flex-start;padding-left:4px;text-align:left"><span>Donnersbergkreis</span></div>
<div class="t " style="left:134px;top:259px;width:65px;height:18px;justify-content:center;padding-left:0px;text-align:center"><span>3093</span></div>
<div class="t " style="left:200px;top:259px;width:62px;height:18px;justify-content:center;padding-left:0px;text-align:center"><span>13</span></div>
<div class="t " style="left:263px;top:259px;width:62px;height:18px;justify-content:center;padding-left:0px;text-align:center"><span>218</span></div>
<div class="t " style="left:326px;top:259px;width:63px;height:18px;justify-content:center;padding-left:0px;text-align:center"><span>75</span></div>
<div class="t " style="left:390px;top:259px;width:68px;height:18px;justify-content:center;padding-left:0px;text-align:center"><span>2928</span></div>
<div class="t " style="left:459px;top:259px;width:66px;height:18px;justify-content:center;padding-left:0px;text-align:center"><span>90</span></div>
<div class="t " style="left:526px;top:259px;width:62px;height:18px;justify-content:center;padding-left:0px;text-align:center"><span>35</span></div>
<div class="t " style="left:589px;top:259px;width:69px;height:18px;justify-content:center;padding-left:0px;text-align:center"><span>46,3</span></div>
<div class="t " style="left:659px;top:259px;width:68px;height:18px;justify-content:center;padding-left:0px;text-align:center"><span>45,9</span></div>
<div class="t " style="left:728px;top:259px;width:72px;height:18px;justify-content:center;padding-left:0px;text-align:center"><span>42,7</span></div>
<div class="t " style="left:801px;top:259px;width:79px;height:18px;justify-content:center;padding-left:0px;text-align:center"><span>62,9</span></div>
<div class="t " style="left:881px;top:259px;width:71px;height:18px;justify-content:center;padding-left:0px;text-align:center"><span>21,5</span></div>
<div class="t " style="left:952px;top:259px;width:126px;height:18px;justify-content:flex-start;padding-left:5px;text-align:left"><span>Donnersbergkreis</span></div>
<div class="t " style="left:7px;top:277px;width:125px;height:18px;justify-content:flex-start;padding-left:4px;text-align:left"><span>Germersheim</span></div>
<div class="t " style="left:134px;top:277px;width:65px;height:18px;justify-content:center;padding-left:0px;text-align:center"><span>7423</span></div>
<div class="t " style="left:200px;top:277px;width:62px;height:18px;justify-content:center;padding-left:0px;text-align:center"><span>52</span></div>
<div class="t " style="left:263px;top:277px;width:62px;height:18px;justify-content:center;padding-left:0px;text-align:center"><span>450</span></div>
<div class="t " style="left:326px;top:277px;width:63px;height:18px;justify-content:center;padding-left:0px;text-align:center"><span>129</span></div>
<div class="t " style="left:390px;top:277px;width:68px;height:18px;justify-content:center;padding-left:0px;text-align:center"><span>6720</span></div>
<div class="t " style="left:459px;top:277px;width:66px;height:18px;justify-content:center;padding-left:0px;text-align:center"><span>574</span></div>
<div class="t " style="left:526px;top:277px;width:62px;height:18px;justify-content:center;padding-left:0px;text-align:center"><span>210</span></div>
<div class="t " style="left:589px;top:277px;width:69px;height:18px;justify-content:center;padding-left:0px;text-align:center"><span>162,8</span></div>
<div class="t " style="left:659px;top:277px;width:68px;height:18px;justify-content:center;padding-left:0px;text-align:center"><span>162,8</span></div>
<div class="t " style="left:728px;top:277px;width:72px;height:18px;justify-content:center;padding-left:0px;text-align:center"><span>198,7</span></div>
<div class="t " style="left:801px;top:277px;width:79px;height:18px;justify-content:center;padding-left:0px;text-align:center"><span>186,7</span></div>
<div class="t " style="left:881px;top:277px;width:71px;height:18px;justify-content:center;padding-left:0px;text-align:center"><span>93,6</span></div>
<div class="t " style="left:952px;top:277px;width:126px;height:18px;justify-content:flex-start;padding-left:5px;text-align:left"><span>Germersheim</span></div>
<div class="t " style="left:7px;top:295px;width:125px;height:18px;justify-content:flex-start;padding-left:4px;text-align:left"><span>Kaiserslautern</span></div>
<div class="t " style="left:134px;top:295px;width:65px;height:18px;justify-content:center;padding-left:0px;text-align:center"><span>4970</span></div>
<div class="t " style="left:200px;top:295px;width:62px;height:18px;justify-content:center;padding-left:0px;text-align:center"><span>22</span></div>
<div class="t " style="left:263px;top:295px;width:62px;height:18px;justify-content:center;padding-left:0px;text-align:center"><span>281</span></div>
<div class="t " style="left:326px;top:295px;width:63px;height:18px;justify-content:center;padding-left:0px;text-align:center"><span>85</span></div>
<div class="t " style="left:390px;top:295px;width:68px;height:18px;justify-content:center;padding-left:0px;text-align:center"><span>4619</span></div>
<div class="t " style="left:459px;top:295px;width:66px;height:18px;justify-content:center;padding-left:0px;text-align:center"><span>266</span></div>
<div class="t " style="left:526px;top:295px;width:62px;height:18px;justify-content:center;padding-left:0px;text-align:center"><span>107</span></div>
<div class="t " style="left:589px;top:295px;width:69px;height:18px;justify-content:center;padding-left:0px;text-align:center"><span>100,6</span></div>
<div class="t " style="left:659px;top:295px;width:68px;height:18px;justify-content:center;padding-left:0px;text-align:center"><span>86,1</span></div>
<div class="t " style="left:728px;top:295px;width:72px;height:18px;justify-content:center;padding-left:0px;text-align:center"><span>226,2</span></div>
<div class="t " style="left:801px;top:295px;width:79px;height:18px;justify-content:center;padding-left:0px;text-align:center"><span>88,9</span></div>
<div class="t " style="left:881px;top:295px;width:71px;height:18px;justify-content:center;padding-left:0px;text-align:center"><span>37,2</span></div>
<div class="t " style="left:952px;top:295px;width:126px;height:18px;justify-content:flex-start;padding-left:5px;text-align:left"><span>Kaiserslautern</span></div>
<div class="t " style="left:7px;top:313px;width:125px;height:18px;justify-content:flex-start;padding-left:4px;text-align:left"><span>Kusel</span></div>
<div class="t " style="left:134px;top:313px;width:65px;height:18px;justify-content:center;padding-left:0px;text-align:center"><span>2587</span></div>
<div class="t " style="left:200px;top:313px;width:62px;height:18px;justify-content:center;padding-left:0px;text-align:center"><span>1</span></div>
<div class="t " style="left:263px;top:313px;width:62px;height:18px;justify-content:center;padding-left:0px;text-align:center"><span>222</span></div>
<div class="t " style="left:326px;top:313px;width:63px;height:18px;justify-content:center;padding-left:0px;text-align:center"><span>71</span></div>
<div class="t " style="left:390px;top:313px;width:68px;height:18px;justify-content:center;padding-left:0px;text-align:center"><span>2425</span></div>
<div class="t " style="left:459px;top:313px;width:66px;height:18px;justify-content:center;padding-left:0px;text-align:center"><span>91</span></div>
<div class="t " style="left:526px;top:313px;width:62px;height:18px;justify-content:center;padding-left:0px;text-align:center"><span>28</span></div>
<div class="t " style="left:589px;top:313px;width:69px;height:18px;justify-content:center;padding-left:0px;text-align:center"><span>39,9</span></div>
<div class="t " style="left:659px;top:313px;width:68px;height:18px;justify-content:center;padding-left:0px;text-align:center"><span>37,9</span></div>
<div class="t " style="left:728px;top:313px;width:72px;height:18px;justify-content:center;padding-left:0px;text-align:center"><span>81,4</span></div>
<div class="t " style="left:801px;top:313px;width:79px;height:18px;justify-content:center;padding-left:0px;text-align:center"><span>37,8</span></div>
<div class="t " style="left:881px;top:313px;width:71px;height:18px;justify-content:center;padding-left:0px;text-align:center"><span>21,3</span></div>
<div class="t " style="left:952px;top:313px;width:126px;height:18px;justify-content:flex-start;padding-left:5px;text-align:left"><span>Kusel</span></div>
<div class="t " style="left:7px;top:331px;width:125px;height:18px;justify-content:flex-start;padding-left:4px;text-align:left"><span>Mainz-Bingen</span></div>
<div class="t " style="left:134px;top:331px;width:65px;height:18px;justify-content:center;padding-left:0px;text-align:center"><span>9112</span></div>
<div class="t " style="left:200px;top:331px;width:62px;height:18px;justify-content:center;padding-left:0px;text-align:center"><span>42</span></div>
<div class="t " style="left:263px;top:331px;width:62px;height:18px;justify-content:center;padding-left:0px;text-align:center"><span>495</span></div>
<div class="t " style="left:326px;top:331px;width:63px;height:18px;justify-content:center;padding-left:0px;text-align:center"><span>228</span></div>
<div class="t " style="left:390px;top:331px;width:68px;height:18px;justify-content:center;padding-left:0px;text-align:center"><span>8521</span></div>
<div class="t " style="left:459px;top:331px;width:66px;height:18px;justify-content:center;padding-left:0px;text-align:center"><span>363</span></div>
<div class="t " style="left:526px;top:331px;width:62px;height:18px;justify-content:center;padding-left:0px;text-align:center"><span>154</span></div>
<div class="t " style="left:589px;top:331px;width:69px;height:18px;justify-content:center;padding-left:0px;text-align:center"><span>72,8</span></div>
<div class="t " style="left:659px;top:331px;width:68px;height:18px;justify-content:center;padding-left:0px;text-align:center"><span>72,8</span></div>
<div class="t " style="left:728px;top:331px;width:72px;height:18px;justify-content:center;padding-left:0px;text-align:center"><span>119,5</span></div>
<div class="t " style="left:801px;top:331px;width:79px;height:18px;justify-content:center;padding-left:0px;text-align:center"><span>76,1</span></div>
<div class="t " style="left:881px;top:331px;width:71px;height:18px;justify-content:center;padding-left:0px;text-align:center"><span>35,8</span></div>
<div class="t " style="left:952px;top:331px;width:126px;height:18px;justify-content:flex-start;padding-left:5px;text-align:left"><span>Mainz-Bingen</span></div>
<div class="t " style="left:7px;top:349px;width:125px;height:18px;justify-content:flex-start;padding-left:4px;text-align:left"><span>Mayen-Koblenz</span></div>
<div class="t " style="left:134px;top:349px;width:65px;height:18px;justify-content:center;padding-left:0px;text-align:center"><span>9020</span></div>
<div class="t " style="left:200px;top:349px;width:62px;height:18px;justify-content:center;padding-left:0px;text-align:center"><span>110</span></div>
<div class="t " style="left:263px;top:349px;width:62px;height:18px;justify-content:center;padding-left:0px;text-align:center"><span>341</span></div>
<div class="t " style="left:326px;top:349px;width:63px;height:18px;justify-content:center;padding-left:0px;text-align:center"><span>183</span></div>
<div class="t " style="left:390px;top:349px;width:68px;height:18px;justify-content:center;padding-left:0px;text-align:center"><span>8364</span></div>
<div class="t " style="left:459px;top:349px;width:66px;height:18px;justify-content:center;padding-left:0px;text-align:center"><span>473</span></div>
<div class="t " style="left:526px;top:349px;width:62px;height:18px;justify-content:center;padding-left:0px;text-align:center"><span>209</span></div>
<div class="t " style="left:589px;top:349px;width:69px;height:18px;justify-content:center;padding-left:0px;text-align:center"><span>97,3</span></div>
<div class="t " style="left:659px;top:349px;width:68px;height:18px;justify-content:center;padding-left:0px;text-align:center"><span>97,3</span></div>
<div class="t " style="left:728px;top:349px;width:72px;height:18px;justify-content:center;padding-left:0px;text-align:center"><span>126,1</span></div>
<div class="t " style="left:801px;top:349px;width:79px;height:18px;justify-content:center;padding-left:0px;text-align:center"><span>88,7</span></div>
<div class="t " style="left:881px;top:349px;width:71px;height:18px;justify-content:center;padding-left:0px;text-align:center"><span>94,3</span></div>
<div class="t " style="left:952px;top:349px;width:126px;height:18px;justify-content:flex-start;padding-left:5px;text-align:left"><span>Mayen-Koblenz</span></div>
<div class="t " style="left:7px;top:367px;width:125px;height:18px;justify-content:flex-start;padding-left:4px;text-align:left"><span>Neuwied</span></div>
<div class="t " style="left:134px;top:367px;width:65px;height:18px;justify-content:center;padding-left:0px;text-align:center"><span>10090</span></div>
<div class="t " style="left:200px;top:367px;width:62px;height:18px;justify-content:center;padding-left:0px;text-align:center"><span>0</span></div>
<div class="t " style="left:263px;top:367px;width:62px;height:18px;justify-content:center;padding-left:0px;text-align:center"><span>369</span></div>
<div class="t " style="left:326px;top:367px;width:63px;height:18px;justify-content:center;padding-left:0px;text-align:center"><span>197</span></div>
<div class="t " style="left:390px;top:367px;width:68px;height:18px;justify-content:center;padding-left:0px;text-align:center"><span>9491</span></div>
<div class="t " style="left:459px;top:367px;width:66px;height:18px;justify-content:center;padding-left:0px;text-align:center"><span>402</span></div>
<div class="t " style="left:526px;top:367px;width:62px;height:18px;justify-content:center;padding-left:0px;text-align:center"><span>174</span></div>
<div class="t " style="left:589px;top:367px;width:69px;height:18px;justify-content:center;padding-left:0px;text-align:center"><span>95,0</span></div>
<div class="t " style="left:659px;top:367px;width:68px;height:18px;justify-content:center;padding-left:0px;text-align:center"><span>95,0</span></div>
<div class="t " style="left:728px;top:367px;width:72px;height:18px;justify-content:center;padding-left:0px;text-align:center"><span>202,4</span></div>
<div class="t " style="left:801px;top:367px;width:79px;height:18px;justify-content:center;padding-left:0px;text-align:center"><span>87,5</span></div>
<div class="t " style="left:881px;top:367px;width:71px;height:18px;justify-content:center;padding-left:0px;text-align:center"><span>39,7</span></div>
<div class="t " style="left:952px;top:367px;width:126px;height:18px;justify-content:flex-start;padding-left:5px;text-align:left"><span>Neuwied</span></div>
<div class="t " style="left:7px;top:385px;width:125px;height:17px;justify-content:flex-start;padding-left:4px;text-align:left"><span>Rhein-Hunsrück</span></div>
<div class="t " style="left:134px;top:385px;width:65px;height:17px;justify-content:center;padding-left:0px;text-align:center"><span>4694</span></div>
<div class="t " style="left:200px;top:385px;width:62px;height:17px;justify-content:center;padding-left:0px;text-align:center"><span>6</span></div>
<div class="t " style="left:263px;top:385px;width:62px;height:17px;justify-content:center;padding-left:0px;text-align:center"><span>401</span></div>
<div class="t " style="left:326px;top:385px;width:63px;height:17px;justify-content:center;padding-left:0px;text-align:center"><span>107</span></div>
<div class="t " style="left:390px;top:385px;width:68px;height:17px;justify-content:center;padding-left:0px;text-align:center"><span>4296</span></div>
<div class="t " style="left:459px;top:385px;width:66px;height:17px;justify-content:center;padding-left:0px;text-align:center"><span>291</span></div>
<div class="t " style="left:526px;top:385px;width:62px;height:17px;justify-content:center;padding-left:0px;text-align:center"><span>117</span></div>
<div class="t " style="left:589px;top:385px;width:69px;height:17px;justify-content:center;padding-left:0px;text-align:center"><span>113,2</span></div>
<div class="t " style="left:659px;top:385px;width:68px;height:17px;justify-content:center;padding-left:0px;text-align:center"><span>113,2</span></div>
<div class="t " style="left:728px;top:385px;width:72px;height:17px;justify-content:center;padding-left:0px;text-align:center"><span>201,8</span></div>
<div class="t " style="left:801px;top:385px;width:79px;height:17px;justify-content:center;padding-left:0px;text-align:center"><span>115,3</span></div>
<div class="t " style="left:881px;top:385px;width:71px;height:17px;justify-content:center;padding-left:0px;text-align:center"><span>58,4</span></div>
<div class="t " style="left:952px;top:385px;width:126px;height:17px;justify-content:flex-start;padding-left:5px;text-align:left"><span>Rhein-Hunsrück</span></div>
<div class="t " style="left:7px;top:402px;width:125px;height:18px;justify-content:flex-start;padding-left:4px;text-align:left"><span>Rhein-Lahn-Kreis</span></div>
<div class="t " style="left:134px;top:402px;width:65px;height:18px;justify-content:center;padding-left:0px;text-align:center"><span>4910</span></div>
<div class="t " style="left:200px;top:402px;width:62px;height:18px;justify-content:center;padding-left:0px;text-align:center"><span>17</span></div>
<div class="t " style="left:263px;top:402px;width:62px;height:18px;justify-content:center;padding-left:0px;text-align:center"><span>391</span></div>
<div class="t " style="left:326px;top:402px;width:63px;height:18px;justify-content:center;padding-left:0px;text-align:center"><span>102</span></div>
<div class="t " style="left:390px;top:402px;width:68px;height:18px;justify-content:center;padding-left:0px;text-align:center"><span>4616</span></div>
<div class="t " style="left:459px;top:402px;width:66px;height:18px;justify-content:center;padding-left:0px;text-align:center"><span>192</span></div>
<div class="t " style="left:526px;top:402px;width:62px;height:18px;justify-content:center;padding-left:0px;text-align:center"><span>76</span></div>
<div class="t " style="left:589px;top:402px;width:69px;height:18px;justify-content:center;padding-left:0px;text-align:center"><span>62,0</span></div>
<div class="t " style="left:659px;top:402px;width:68px;height:18px;justify-content:center;padding-left:0px;text-align:center"><span>62,0</span></div>
<div class="t " style="left:728px;top:402px;width:72px;height:18px;justify-content:center;padding-left:0px;text-align:center"><span>109,2</span></div>
<div class="t " style="left:801px;top:402px;width:79px;height:18px;justify-content:center;padding-left:0px;text-align:center"><span>66,3</span></div>
<div class="t " style="left:881px;top:402px;width:71px;height:18px;justify-content:center;padding-left:0px;text-align:center"><span>28,4</span></div>
<div class="t " style="left:952px;top:402px;width:126px;height:18px;justify-content:flex-start;padding-left:5px;text-align:left"><span>Rhein-Lahn-Kreis</span></div>
<div class="t " style="left:7px;top:420px;width:125px;height:18px;justify-content:flex-start;padding-left:4px;text-align:left"><span>Rhein-Pfalz-Kreis</span></div>
<div class="t " style="left:134px;top:420px;width:65px;height:18px;justify-content:center;padding-left:0px;text-align:center"><span>8291</span></div>
<div class="t " style="left:200px;top:420px;width:62px;height:18px;justify-content:center;padding-left:0px;text-align:center"><span>15</span></div>
<div class="t " style="left:263px;top:420px;width:62px;height:18px;justify-content:center;padding-left:0px;text-align:center"><span>252</span></div>
<div class="t " style="left:326px;top:420px;width:63px;height:18px;justify-content:center;padding-left:0px;text-align:center"><span>231</span></div>
<div class="t " style="left:390px;top:420px;width:68px;height:18px;justify-content:center;padding-left:0px;text-align:center"><span>7622</span></div>
<div class="t " style="left:459px;top:420px;width:66px;height:18px;justify-content:center;padding-left:0px;text-align:center"><span>438</span></div>
<div class="t " style="left:526px;top:420px;width:62px;height:18px;justify-content:center;padding-left:0px;text-align:center"><span>176</span></div>
<div class="t " style="left:589px;top:420px;width:69px;height:18px;justify-content:center;padding-left:0px;text-align:center"><span>113,7</span></div>
<div class="t " style="left:659px;top:420px;width:68px;height:18px;justify-content:center;padding-left:0px;text-align:center"><span>113,7</span></div>
<div class="t " style="left:728px;top:420px;width:72px;height:18px;justify-content:center;padding-left:0px;text-align:center"><span>151,2</span></div>
<div class="t " style="left:801px;top:420px;width:79px;height:18px;justify-content:center;padding-left:0px;text-align:center"><span>129,2</span></div>
<div class="t " style="left:881px;top:420px;width:71px;height:18px;justify-content:center;padding-left:0px;text-align:center"><span>65,3</span></div>
<div class="t " style="left:952px;top:420px;width:126px;height:18px;justify-content:flex-start;padding-left:5px;text-align:left"><span>Rhein-Pfalz-Kreis</span></div>
<div class="t " style="left:7px;top:438px;width:125px;height:18px;justify-content:flex-start;padding-left:4px;text-align:left"><span>Südliche Weinstr.</span></div>
<div class="t " style="left:134px;top:438px;width:65px;height:18px;justify-content:center;padding-left:0px;text-align:center"><span>4650</span></div>
<div class="t " style="left:200px;top:438px;width:62px;height:18px;justify-content:center;padding-left:0px;text-align:center"><span>20</span></div>
<div class="t " style="left:263px;top:438px;width:62px;height:18px;justify-content:center;padding-left:0px;text-align:center"><span>419</span></div>
<div class="t " style="left:326px;top:438px;width:63px;height:18px;justify-content:center;padding-left:0px;text-align:center"><span>121</span></div>
<div class="t " style="left:390px;top:438px;width:68px;height:18px;justify-content:center;padding-left:0px;text-align:center"><span>4261</span></div>
<div class="t " style="left:459px;top:438px;width:66px;height:18px;justify-content:center;padding-left:0px;text-align:center"><span>268</span></div>
<div class="t " style="left:526px;top:438px;width:62px;height:18px;justify-content:center;padding-left:0px;text-align:center"><span>115</span></div>
<div class="t " style="left:589px;top:438px;width:69px;height:18px;justify-content:center;padding-left:0px;text-align:center"><span>103,8</span></div>
<div class="t " style="left:659px;top:438px;width:68px;height:18px;justify-content:center;padding-left:0px;text-align:center"><span>103,8</span></div>
<div class="t " style="left:728px;top:438px;width:72px;height:18px;justify-content:center;padding-left:0px;text-align:center"><span>188,8</span></div>
<div class="t " style="left:801px;top:438px;width:79px;height:18px;justify-content:center;padding-left:0px;text-align:center"><span>107,5</span></div>
<div class="t " style="left:881px;top:438px;width:71px;height:18px;justify-content:center;padding-left:0px;text-align:center"><span>50,9</span></div>
<div class="t " style="left:952px;top:438px;width:126px;height:18px;justify-content:flex-start;padding-left:5px;text-align:left"><span>Südliche Weinstr.</span></div>
<div class="t " style="left:7px;top:456px;width:125px;height:18px;justify-content:flex-start;padding-left:4px;text-align:left"><span>Südwestpfalz</span></div>
<div class="t " style="left:134px;top:456px;width:65px;height:18px;justify-content:center;padding-left:0px;text-align:center"><span>3086</span></div>
<div class="t " style="left:200px;top:456px;width:62px;height:18px;justify-content:center;padding-left:0px;text-align:center"><span>19</span></div>
<div class="t " style="left:263px;top:456px;width:62px;height:18px;justify-content:center;padding-left:0px;text-align:center"><span>303</span></div>
<div class="t " style="left:326px;top:456px;width:63px;height:18px;justify-content:center;padding-left:0px;text-align:center"><span>89</span></div>
<div class="t " style="left:390px;top:456px;width:68px;height:18px;justify-content:center;padding-left:0px;text-align:center"><span>2839</span></div>
<div class="t " style="left:459px;top:456px;width:66px;height:18px;justify-content:center;padding-left:0px;text-align:center"><span>158</span></div>
<div class="t " style="left:526px;top:456px;width:62px;height:18px;justify-content:center;padding-left:0px;text-align:center"><span>60</span></div>
<div class="t " style="left:589px;top:456px;width:69px;height:18px;justify-content:center;padding-left:0px;text-align:center"><span>63,2</span></div>
<div class="t " style="left:659px;top:456px;width:68px;height:18px;justify-content:center;padding-left:0px;text-align:center"><span>62,4</span></div>
<div class="t " style="left:728px;top:456px;width:72px;height:18px;justify-content:center;padding-left:0px;text-align:center"><span>65,2</span></div>
<div class="t " style="left:801px;top:456px;width:79px;height:18px;justify-content:center;padding-left:0px;text-align:center"><span>51,4</span></div>
<div class="t " style="left:881px;top:456px;width:71px;height:18px;justify-content:center;padding-left:0px;text-align:center"><span>79,0</span></div>
<div class="t " style="left:952px;top:456px;width:126px;height:18px;justify-content:flex-start;padding-left:5px;text-align:left"><span>Südwestpfalz</span></div>
<div class="t " style="left:7px;top:474px;width:125px;height:18px;justify-content:flex-start;padding-left:4px;text-align:left"><span>Trier-Saarburg</span></div>
<div class="t " style="left:134px;top:474px;width:65px;height:18px;justify-content:center;padding-left:0px;text-align:center"><span>5489</span></div>
<div class="t " style="left:200px;top:474px;width:62px;height:18px;justify-content:center;padding-left:0px;text-align:center"><span>11</span></div>
<div class="t " style="left:263px;top:474px;width:62px;height:18px;justify-content:center;padding-left:0px;text-align:center"><span>288</span></div>
<div class="t " style="left:326px;top:474px;width:63px;height:18px;justify-content:center;padding-left:0px;text-align:center"><span>100</span></div>
<div class="t " style="left:390px;top:474px;width:68px;height:18px;justify-content:center;padding-left:0px;text-align:center"><span>5069</span></div>
<div class="t " style="left:459px;top:474px;width:66px;height:18px;justify-content:center;padding-left:0px;text-align:center"><span>320</span></div>
<div class="t " style="left:526px;top:474px;width:62px;height:18px;justify-content:center;padding-left:0px;text-align:center"><span>97</span></div>
<div class="t " style="left:589px;top:474px;width:69px;height:18px;justify-content:center;padding-left:0px;text-align:center"><span>64,4</span></div>
<div class="t " style="left:659px;top:474px;width:68px;height:18px;justify-content:center;padding-left:0px;text-align:center"><span>64,4</span></div>
<div class="t " style="left:728px;top:474px;width:72px;height:18px;justify-content:center;padding-left:0px;text-align:center"><span>101,6</span></div>
<div class="t " style="left:801px;top:474px;width:79px;height:18px;justify-content:center;padding-left:0px;text-align:center"><span>76,3</span></div>
<div class="t " style="left:881px;top:474px;width:71px;height:18px;justify-content:center;padding-left:0px;text-align:center"><span>18,4</span></div>
<div class="t " style="left:952px;top:474px;width:126px;height:18px;justify-content:flex-start;padding-left:5px;text-align:left"><span>Trier-Saarburg</span></div>
<div class="t " style="left:7px;top:492px;width:125px;height:18px;justify-content:flex-start;padding-left:4px;text-align:left"><span>Vulkaneifel</span></div>
<div class="t " style="left:134px;top:492px;width:65px;height:18px;justify-content:center;padding-left:0px;text-align:center"><span>2467</span></div>
<div class="t " style="left:200px;top:492px;width:62px;height:18px;justify-content:center;padding-left:0px;text-align:center"><span>1</span></div>
<div class="t " style="left:263px;top:492px;width:62px;height:18px;justify-content:center;padding-left:0px;text-align:center"><span>196</span></div>
<div class="t " style="left:326px;top:492px;width:63px;height:18px;justify-content:center;padding-left:0px;text-align:center"><span>62</span></div>
<div class="t " style="left:390px;top:492px;width:68px;height:18px;justify-content:center;padding-left:0px;text-align:center"><span>2284</span></div>
<div class="t " style="left:459px;top:492px;width:66px;height:18px;justify-content:center;padding-left:0px;text-align:center"><span>121</span></div>
<div class="t " style="left:526px;top:492px;width:62px;height:18px;justify-content:center;padding-left:0px;text-align:center"><span>56</span></div>
<div class="t " style="left:589px;top:492px;width:69px;height:18px;justify-content:center;padding-left:0px;text-align:center"><span>92,6</span></div>
<div class="t " style="left:659px;top:492px;width:68px;height:18px;justify-content:center;padding-left:0px;text-align:center"><span>92,6</span></div>
<div class="t " style="left:728px;top:492px;width:72px;height:18px;justify-content:center;padding-left:0px;text-align:center"><span>136,1</span></div>
<div class="t " style="left:801px;top:492px;width:79px;height:18px;justify-content:center;padding-left:0px;text-align:center"><span>123,5</span></div>
<div class="t " style="left:881px;top:492px;width:71px;height:18px;justify-content:center;padding-left:0px;text-align:center"><span>24,7</span></div>
<div class="t " style="left:952px;top:492px;width:126px;height:18px;justify-content:flex-start;padding-left:5px;text-align:left"><span>Vulkaneifel</span></div>
<div class="t " style="left:7px;top:510px;width:125px;height:18px;justify-content:flex-start;padding-left:4px;text-align:left"><span>Westerwaldkreis</span></div>
<div class="t " style="left:134px;top:510px;width:65px;height:18px;justify-content:center;padding-left:0px;text-align:center"><span>9105</span></div>
<div class="t " style="left:200px;top:510px;width:62px;height:18px;justify-content:center;padding-left:0px;text-align:center"><span>37</span></div>
<div class="t " style="left:263px;top:510px;width:62px;height:18px;justify-content:center;padding-left:0px;text-align:center"><span>722</span></div>
<div class="t " style="left:326px;top:510px;width:63px;height:18px;justify-content:center;padding-left:0px;text-align:center"><span>168</span></div>
<div class="t " style="left:390px;top:510px;width:68px;height:18px;justify-content:center;padding-left:0px;text-align:center"><span>8556</span></div>
<div class="t " style="left:459px;top:510px;width:66px;height:18px;justify-content:center;padding-left:0px;text-align:center"><span>381</span></div>
<div class="t " style="left:526px;top:510px;width:62px;height:18px;justify-content:center;padding-left:0px;text-align:center"><span>169</span></div>
<div class="t " style="left:589px;top:510px;width:69px;height:18px;justify-content:center;padding-left:0px;text-align:center"><span>83,3</span></div>
<div class="t " style="left:659px;top:510px;width:68px;height:18px;justify-content:center;padding-left:0px;text-align:center"><span>83,3</span></div>
<div class="t " style="left:728px;top:510px;width:72px;height:18px;justify-content:center;padding-left:0px;text-align:center"><span>107,0</span></div>
<div class="t " style="left:801px;top:510px;width:79px;height:18px;justify-content:center;padding-left:0px;text-align:center"><span>81,6</span></div>
<div class="t " style="left:881px;top:510px;width:71px;height:18px;justify-content:center;padding-left:0px;text-align:center"><span>71,0</span></div>
<div class="t " style="left:952px;top:510px;width:126px;height:18px;justify-content:flex-start;padding-left:5px;text-align:left"><span>Westerwaldkreis</span></div>
<div class="t " style="left:7px;top:528px;width:125px;height:18px;justify-content:flex-start;padding-left:4px;text-align:left"><span>KS Frankenthal</span></div>
<div class="t " style="left:134px;top:528px;width:65px;height:18px;justify-content:center;padding-left:0px;text-align:center"><span>2893</span></div>
<div class="t " style="left:200px;top:528px;width:62px;height:18px;justify-content:center;padding-left:0px;text-align:center"><span>1</span></div>
<div class="t " style="left:263px;top:528px;width:62px;height:18px;justify-content:center;padding-left:0px;text-align:center"><span>67</span></div>
<div class="t " style="left:326px;top:528px;width:63px;height:18px;justify-content:center;padding-left:0px;text-align:center"><span>56</span></div>
<div class="t " style="left:390px;top:528px;width:68px;height:18px;justify-content:center;padding-left:0px;text-align:center"><span>2685</span></div>
<div class="t " style="left:459px;top:528px;width:66px;height:18px;justify-content:center;padding-left:0px;text-align:center"><span>152</span></div>
<div class="t " style="left:526px;top:528px;width:62px;height:18px;justify-content:center;padding-left:0px;text-align:center"><span>50</span></div>
<div class="t " style="left:589px;top:528px;width:69px;height:18px;justify-content:center;padding-left:0px;text-align:center"><span>102,6</span></div>
<div class="t " style="left:659px;top:528px;width:68px;height:18px;justify-content:center;padding-left:0px;text-align:center"><span>102,6</span></div>
<div class="t " style="left:728px;top:528px;width:72px;height:18px;justify-content:center;padding-left:0px;text-align:center"><span>150,8</span></div>
<div class="t " style="left:801px;top:528px;width:79px;height:18px;justify-content:center;padding-left:0px;text-align:center"><span>120,6</span></div>
<div class="t " style="left:881px;top:528px;width:71px;height:18px;justify-content:center;padding-left:0px;text-align:center"><span>41,1</span></div>
<div class="t " style="left:952px;top:528px;width:126px;height:18px;justify-content:flex-start;padding-left:5px;text-align:left"><span>KS Frankenthal</span></div>
<div class="t " style="left:7px;top:546px;width:125px;height:18px;justify-content:flex-start;padding-left:4px;text-align:left"><span>KS Kaiserslautern</span></div>
<div class="t " style="left:134px;top:546px;width:65px;height:18px;justify-content:center;padding-left:0px;text-align:center"><span>4675</span></div>
<div class="t " style="left:200px;top:546px;width:62px;height:18px;justify-content:center;padding-left:0px;text-align:center"><span>11</span></div>
<div class="t " style="left:263px;top:546px;width:62px;height:18px;justify-content:center;padding-left:0px;text-align:center"><span>361</span></div>
<div class="t " style="left:326px;top:546px;width:63px;height:18px;justify-content:center;padding-left:0px;text-align:center"><span>121</span></div>
<div class="t " style="left:390px;top:546px;width:68px;height:18px;justify-content:center;padding-left:0px;text-align:center"><span>4431</span></div>
<div class="t " style="left:459px;top:546px;width:66px;height:18px;justify-content:center;padding-left:0px;text-align:center"><span>123</span></div>
<div class="t " style="left:526px;top:546px;width:62px;height:18px;justify-content:center;padding-left:0px;text-align:center"><span>47</span></div>
<div class="t " style="left:589px;top:546px;width:69px;height:18px;justify-content:center;padding-left:0px;text-align:center"><span>47,2</span></div>
<div class="t " style="left:659px;top:546px;width:68px;height:18px;justify-content:center;padding-left:0px;text-align:center"><span>44,2</span></div>
<div class="t " style="left:728px;top:546px;width:72px;height:18px;justify-content:center;padding-left:0px;text-align:center"><span>47,1</span></div>
<div class="t " style="left:801px;top:546px;width:79px;height:18px;justify-content:center;padding-left:0px;text-align:center"><span>52,3</span></div>
<div class="t " style="left:881px;top:546px;width:71px;height:18px;justify-content:center;padding-left:0px;text-align:center"><span>36,7</span></div>
<div class="t " style="left:952px;top:546px;width:126px;height:18px;justify-content:flex-start;padding-left:5px;text-align:left"><span>KS Kaiserslautern</span></div>
<div class="t " style="left:7px;top:564px;width:125px;height:18px;justify-content:flex-start;padding-left:4px;text-align:left"><span>KS Koblenz</span></div>
<div class="t " style="left:134px;top:564px;width:65px;height:18px;justify-content:center;padding-left:0px;text-align:center"><span>5567</span></div>
<div class="t " style="left:200px;top:564px;width:62px;height:18px;justify-content:center;padding-left:0px;text-align:center"><span>28</span></div>
<div class="t " style="left:263px;top:564px;width:62px;height:18px;justify-content:center;padding-left:0px;text-align:center"><span>197</span></div>
<div class="t " style="left:326px;top:564px;width:63px;height:18px;justify-content:center;padding-left:0px;text-align:center"><span>160</span></div>
<div class="t " style="left:390px;top:564px;width:68px;height:18px;justify-content:center;padding-left:0px;text-align:center"><span>5203</span></div>
<div class="t " style="left:459px;top:564px;width:66px;height:18px;justify-content:center;padding-left:0px;text-align:center"><span>204</span></div>
<div class="t " style="left:526px;top:564px;width:62px;height:18px;justify-content:center;padding-left:0px;text-align:center"><span>75</span></div>
<div class="t " style="left:589px;top:564px;width:69px;height:18px;justify-content:center;padding-left:0px;text-align:center"><span>66,1</span></div>
<div class="t " style="left:659px;top:564px;width:68px;height:18px;justify-content:center;padding-left:0px;text-align:center"><span>66,1</span></div>
<div class="t " style="left:728px;top:564px;width:72px;height:18px;justify-content:center;padding-left:0px;text-align:center"><span>116,1</span></div>
<div class="t " style="left:801px;top:564px;width:79px;height:18px;justify-content:center;padding-left:0px;text-align:center"><span>52,8</span></div>
<div class="t " style="left:881px;top:564px;width:71px;height:18px;justify-content:center;padding-left:0px;text-align:center"><span>62,6</span></div>
<div class="t " style="left:952px;top:564px;width:126px;height:18px;justify-content:flex-start;padding-left:5px;text-align:left"><span>KS Koblenz</span></div>
<div class="t " style="left:7px;top:582px;width:125px;height:18px;justify-content:flex-start;padding-left:4px;text-align:left"><span>KS Landau i.d.Pf.</span></div>
<div class="t " style="left:134px;top:582px;width:65px;height:18px;justify-content:center;padding-left:0px;text-align:center"><span>2235</span></div>
<div class="t " style="left:200px;top:582px;width:62px;height:18px;justify-content:center;padding-left:0px;text-align:center"><span>11</span></div>
<div class="t " style="left:263px;top:582px;width:62px;height:18px;justify-content:center;padding-left:0px;text-align:center"><span>220</span></div>
<div class="t " style="left:326px;top:582px;width:63px;height:18px;justify-content:center;padding-left:0px;text-align:center"><span>42</span></div>
<div class="t " style="left:390px;top:582px;width:68px;height:18px;justify-content:center;padding-left:0px;text-align:center"><span>2077</span></div>
<div class="t " style="left:459px;top:582px;width:66px;height:18px;justify-content:center;padding-left:0px;text-align:center"><span>116</span></div>
<div class="t " style="left:526px;top:582px;width:62px;height:18px;justify-content:center;padding-left:0px;text-align:center"><span>70</span></div>
<div class="t " style="left:589px;top:582px;width:69px;height:18px;justify-content:center;padding-left:0px;text-align:center"><span>149,9</span></div>
<div class="t " style="left:659px;top:582px;width:68px;height:18px;justify-content:center;padding-left:0px;text-align:center"><span>149,9</span></div>
<div class="t " style="left:728px;top:582px;width:72px;height:18px;justify-content:center;padding-left:0px;text-align:center"><span>210,3</span></div>
<div class="t " style="left:801px;top:582px;width:79px;height:18px;justify-content:center;padding-left:0px;text-align:center"><span>167,4</span></div>
<div class="t " style="left:881px;top:582px;width:71px;height:18px;justify-content:center;padding-left:0px;text-align:center"><span>73,1</span></div>
<div class="t " style="left:952px;top:582px;width:126px;height:18px;justify-content:flex-start;padding-left:5px;text-align:left"><span>KS Landau i.d.Pf.</span></div>
<div class="t " style="left:7px;top:600px;width:125px;height:17px;justify-content:flex-start;padding-left:4px;text-align:left"><span>KS Ludwigshafen</span></div>
<div class="t " style="left:134px;top:600px;width:65px;height:17px;justify-content:center;padding-left:0px;text-align:center"><span>13309</span></div>
<div class="t " style="left:200px;top:600px;width:62px;height:17px;justify-content:center;padding-left:0px;text-align:center"><span>14</span></div>
<div class="t " style="left:263px;top:600px;width:62px;height:17px;justify-content:center;padding-left:0px;text-align:center"><span>375</span></div>
<div class="t " style="left:326px;top:600px;width:63px;height:17px;justify-content:center;padding-left:0px;text-align:center"><span>338</span></div>
<div class="t " style="left:390px;top:600px;width:68px;height:17px;justify-content:center;padding-left:0px;text-align:center"><span>12456</span></div>
<div class="t " style="left:459px;top:600px;width:66px;height:17px;justify-content:center;padding-left:0px;text-align:center"><span>515</span></div>
<div class="t " style="left:526px;top:600px;width:62px;height:17px;justify-content:center;padding-left:0px;text-align:center"><span>199</span></div>
<div class="t " style="left:589px;top:600px;width:69px;height:17px;justify-content:center;padding-left:0px;text-align:center"><span>115,3</span></div>
<div class="t " style="left:659px;top:600px;width:68px;height:17px;justify-content:center;padding-left:0px;text-align:center"><span>115,3</span></div>
<div class="t " style="left:728px;top:600px;width:72px;height:17px;justify-content:center;padding-left:0px;text-align:center"><span>188,8</span></div>
<div class="t " style="left:801px;top:600px;width:79px;height:17px;justify-content:center;padding-left:0px;text-align:center"><span>126,5</span></div>
<div class="t " style="left:881px;top:600px;width:71px;height:17px;justify-content:center;padding-left:0px;text-align:center"><span>30,3</span></div>
<div class="t " style="left:952px;top:600px;width:126px;height:17px;justify-content:flex-start;padding-left:5px;text-align:left"><span>KS Ludwigshafen</span></div>
<div class="t " style="left:7px;top:617px;width:125px;height:18px;justify-content:flex-start;padding-left:4px;text-align:left"><span>KS Mainz</span></div>
<div class="t " style="left:134px;top:617px;width:65px;height:18px;justify-content:center;padding-left:0px;text-align:center"><span>12472</span></div>
<div class="t " style="left:200px;top:617px;width:62px;height:18px;justify-content:center;padding-left:0px;text-align:center"><span>25</span></div>
<div class="t " style="left:263px;top:617px;width:62px;height:18px;justify-content:center;padding-left:0px;text-align:center"><span>590</span></div>
<div class="t " style="left:326px;top:617px;width:63px;height:18px;justify-content:center;padding-left:0px;text-align:center"><span>218</span></div>
<div class="t " style="left:390px;top:617px;width:68px;height:18px;justify-content:center;padding-left:0px;text-align:center"><span>11785</span></div>
<div class="t " style="left:459px;top:617px;width:66px;height:18px;justify-content:center;padding-left:0px;text-align:center"><span>469</span></div>
<div class="t " style="left:526px;top:617px;width:62px;height:18px;justify-content:center;padding-left:0px;text-align:center"><span>165</span></div>
<div class="t " style="left:589px;top:617px;width:69px;height:18px;justify-content:center;padding-left:0px;text-align:center"><span>76,0</span></div>
<div class="t " style="left:659px;top:617px;width:68px;height:18px;justify-content:center;padding-left:0px;text-align:center"><span>75,9</span></div>
<div class="t " style="left:728px;top:617px;width:72px;height:18px;justify-content:center;padding-left:0px;text-align:center"><span>104,7</span></div>
<div class="t " style="left:801px;top:617px;width:79px;height:18px;justify-content:center;padding-left:0px;text-align:center"><span>74,4</span></div>
<div class="t " style="left:881px;top:617px;width:71px;height:18px;justify-content:center;padding-left:0px;text-align:center"><span>59,4</span></div>
<div class="t " style="left:952px;top:617px;width:126px;height:18px;justify-content:flex-start;padding-left:5px;text-align:left"><span>KS Mainz</span></div>
<div class="t " style="left:7px;top:635px;width:125px;height:18px;justify-content:flex-start;padding-left:4px;text-align:left"><span>KS Neustadt a.d.W.</span></div>
<div class="t " style="left:134px;top:635px;width:65px;height:18px;justify-content:center;padding-left:0px;text-align:center"><span>2384</span></div>
<div class="t " style="left:200px;top:635px;width:62px;height:18px;justify-content:center;padding-left:0px;text-align:center"><span>26</span></div>
<div class="t " style="left:263px;top:635px;width:62px;height:18px;justify-content:center;padding-left:0px;text-align:center"><span>155</span></div>
<div class="t " style="left:326px;top:635px;width:63px;height:18px;justify-content:center;padding-left:0px;text-align:center"><span>44</span></div>
<div class="t " style="left:390px;top:635px;width:68px;height:18px;justify-content:center;padding-left:0px;text-align:center"><span>2229</span></div>
<div class="t " style="left:459px;top:635px;width:66px;height:18px;justify-content:center;padding-left:0px;text-align:center"><span>111</span></div>
<div class="t " style="left:526px;top:635px;width:62px;height:18px;justify-content:center;padding-left:0px;text-align:center"><span>68</span></div>
<div class="t " style="left:589px;top:635px;width:69px;height:18px;justify-content:center;padding-left:0px;text-align:center"><span>127,6</span></div>
<div class="t " style="left:659px;top:635px;width:68px;height:18px;justify-content:center;padding-left:0px;text-align:center"><span>127,6</span></div>
<div class="t " style="left:728px;top:635px;width:72px;height:18px;justify-content:center;padding-left:0px;text-align:center"><span>230,2</span></div>
<div class="t " style="left:801px;top:635px;width:79px;height:18px;justify-content:center;padding-left:0px;text-align:center"><span>144,6</span></div>
<div class="t " style="left:881px;top:635px;width:71px;height:18px;justify-content:center;padding-left:0px;text-align:center"><span>45,8</span></div>
<div class="t " style="left:952px;top:635px;width:126px;height:18px;justify-content:flex-start;padding-left:5px;text-align:left"><span>KS Neustadt a.d.W.</span></div>
<div class="t " style="left:7px;top:653px;width:125px;height:18px;justify-content:flex-start;padding-left:4px;text-align:left"><span>KS Pirmasens</span></div>
<div class="t " style="left:134px;top:653px;width:65px;height:18px;justify-content:center;padding-left:0px;text-align:center"><span>1685</span></div>
<div class="t " style="left:200px;top:653px;width:62px;height:18px;justify-content:center;padding-left:0px;text-align:center"><span>13</span></div>
<div class="t " style="left:263px;top:653px;width:62px;height:18px;justify-content:center;padding-left:0px;text-align:center"><span>187</span></div>
<div class="t " style="left:326px;top:653px;width:63px;height:18px;justify-content:center;padding-left:0px;text-align:center"><span>58</span></div>
<div class="t " style="left:390px;top:653px;width:68px;height:18px;justify-content:center;padding-left:0px;text-align:center"><span>1559</span></div>
<div class="t " style="left:459px;top:653px;width:66px;height:18px;justify-content:center;padding-left:0px;text-align:center"><span>68</span></div>
<div class="t " style="left:526px;top:653px;width:62px;height:18px;justify-content:center;padding-left:0px;text-align:center"><span>22</span></div>
<div class="t " style="left:589px;top:653px;width:69px;height:18px;justify-content:center;padding-left:0px;text-align:center"><span>54,8</span></div>
<div class="t " style="left:659px;top:653px;width:68px;height:18px;justify-content:center;padding-left:0px;text-align:center"><span>54,7</span></div>
<div class="t " style="left:728px;top:653px;width:72px;height:18px;justify-content:center;padding-left:0px;text-align:center"><span>43,3</span></div>
<div class="t " style="left:801px;top:653px;width:79px;height:18px;justify-content:center;padding-left:0px;text-align:center"><span>40,7</span></div>
<div class="t " style="left:881px;top:653px;width:71px;height:18px;justify-content:center;padding-left:0px;text-align:center"><span>81,0</span></div>
<div class="t " style="left:952px;top:653px;width:126px;height:18px;justify-content:flex-start;padding-left:5px;text-align:left"><span>KS Pirmasens</span></div>
<div class="t " style="left:7px;top:671px;width:125px;height:18px;justify-content:flex-start;padding-left:4px;text-align:left"><span>KS Speyer</span></div>
<div class="t " style="left:134px;top:671px;width:65px;height:18px;justify-content:center;padding-left:0px;text-align:center"><span>3663</span></div>
<div class="t " style="left:200px;top:671px;width:62px;height:18px;justify-content:center;padding-left:0px;text-align:center"><span>7</span></div>
<div class="t " style="left:263px;top:671px;width:62px;height:18px;justify-content:center;padding-left:0px;text-align:center"><span>114</span></div>
<div class="t " style="left:326px;top:671px;width:63px;height:18px;justify-content:center;padding-left:0px;text-align:center"><span>93</span></div>
<div class="t " style="left:390px;top:671px;width:68px;height:18px;justify-content:center;padding-left:0px;text-align:center"><span>3322</span></div>
<div class="t " style="left:459px;top:671px;width:66px;height:18px;justify-content:center;padding-left:0px;text-align:center"><span>248</span></div>
<div class="t " style="left:526px;top:671px;width:62px;height:18px;justify-content:center;padding-left:0px;text-align:center"><span>82</span></div>
<div class="t " style="left:589px;top:671px;width:69px;height:18px;justify-content:center;padding-left:0px;text-align:center"><span>161,6</span></div>
<div class="t " style="left:659px;top:671px;width:68px;height:18px;justify-content:center;padding-left:0px;text-align:center"><span>161,6</span></div>
<div class="t " style="left:728px;top:671px;width:72px;height:18px;justify-content:center;padding-left:0px;text-align:center"><span>241,3</span></div>
<div class="t " style="left:801px;top:671px;width:79px;height:18px;justify-content:center;padding-left:0px;text-align:center"><span>187,2</span></div>
<div class="t " style="left:881px;top:671px;width:71px;height:18px;justify-content:center;padding-left:0px;text-align:center"><span>71,2</span></div>
<div class="t " style="left:952px;top:671px;width:126px;height:18px;justify-content:flex-start;padding-left:5px;text-align:left"><span>KS Speyer</span></div>
<div class="t " style="left:7px;top:689px;width:125px;height:18px;justify-content:flex-start;padding-left:4px;text-align:left"><span>KS Trier</span></div>
<div class="t " style="left:134px;top:689px;width:65px;height:18px;justify-content:center;padding-left:0px;text-align:center"><span>3568</span></div>
<div class="t " style="left:200px;top:689px;width:62px;height:18px;justify-content:center;padding-left:0px;text-align:center"><span>1</span></div>
<div class="t " style="left:263px;top:689px;width:62px;height:18px;justify-content:center;padding-left:0px;text-align:center"><span>171</span></div>
<div class="t " style="left:326px;top:689px;width:63px;height:18px;justify-content:center;padding-left:0px;text-align:center"><span>36</span></div>
<div class="t " style="left:390px;top:689px;width:68px;height:18px;justify-content:center;padding-left:0px;text-align:center"><span>3397</span></div>
<div class="t " style="left:459px;top:689px;width:66px;height:18px;justify-content:center;padding-left:0px;text-align:center"><span>135</span></div>
<div class="t " style="left:526px;top:689px;width:62px;height:18px;justify-content:center;padding-left:0px;text-align:center"><span>57</span></div>
<div class="t " style="left:589px;top:689px;width:69px;height:18px;justify-content:center;padding-left:0px;text-align:center"><span>51,5</span></div>
<div class="t " style="left:659px;top:689px;width:68px;height:18px;justify-content:center;padding-left:0px;text-align:center"><span>51,5</span></div>
<div class="t " style="left:728px;top:689px;width:72px;height:18px;justify-content:center;padding-left:0px;text-align:center"><span>76,3</span></div>
<div class="t " style="left:801px;top:689px;width:79px;height:18px;justify-content:center;padding-left:0px;text-align:center"><span>56,3</span></div>
<div class="t " style="left:881px;top:689px;width:71px;height:18px;justify-content:center;padding-left:0px;text-align:center"><span>22,5</span></div>
<div class="t " style="left:952px;top:689px;width:126px;height:18px;justify-content:flex-start;padding-left:5px;text-align:left"><span>KS Trier</span></div>
<div class="t " style="left:7px;top:707px;width:125px;height:18px;justify-content:flex-start;padding-left:4px;text-align:left"><span>KS Worms</span></div>
<div class="t " style="left:134px;top:707px;width:65px;height:18px;justify-content:center;padding-left:0px;text-align:center"><span>5408</span></div>
<div class="t " style="left:200px;top:707px;width:62px;height:18px;justify-content:center;padding-left:0px;text-align:center"><span>22</span></div>
<div class="t " style="left:263px;top:707px;width:62px;height:18px;justify-content:center;padding-left:0px;text-align:center"><span>315</span></div>
<div class="t " style="left:326px;top:707px;width:63px;height:18px;justify-content:center;padding-left:0px;text-align:center"><span>98</span></div>
<div class="t " style="left:390px;top:707px;width:68px;height:18px;justify-content:center;padding-left:0px;text-align:center"><span>5056</span></div>
<div class="t " style="left:459px;top:707px;width:66px;height:18px;justify-content:center;padding-left:0px;text-align:center"><span>254</span></div>
<div class="t " style="left:526px;top:707px;width:62px;height:18px;justify-content:center;padding-left:0px;text-align:center"><span>104</span></div>
<div class="t " style="left:589px;top:707px;width:69px;height:18px;justify-content:center;padding-left:0px;text-align:center"><span>124,6</span></div>
<div class="t " style="left:659px;top:707px;width:68px;height:18px;justify-content:center;padding-left:0px;text-align:center"><span>124,6</span></div>
<div class="t " style="left:728px;top:707px;width:72px;height:18px;justify-content:center;padding-left:0px;text-align:center"><span>228,0</span></div>
<div class="t " style="left:801px;top:707px;width:79px;height:18px;justify-content:center;padding-left:0px;text-align:center"><span>134,2</span></div>
<div class="t " style="left:881px;top:707px;width:71px;height:18px;justify-content:center;padding-left:0px;text-align:center"><span>34,4</span></div>
<div class="t " style="left:952px;top:707px;width:126px;height:18px;justify-content:flex-start;padding-left:5px;text-align:left"><span>KS Worms</span></div>
<div class="t " style="left:7px;top:725px;width:125px;height:18px;justify-content:flex-start;padding-left:4px;text-align:left"><span>KS Zweibrücken</span></div>
<div class="t " style="left:134px;top:725px;width:65px;height:18px;justify-content:center;padding-left:0px;text-align:center"><span>1096</span></div>
<div class="t " style="left:200px;top:725px;width:62px;height:18px;justify-content:center;padding-left:0px;text-align:center"><span>16</span></div>
<div class="t " style="left:263px;top:725px;width:62px;height:18px;justify-content:center;padding-left:0px;text-align:center"><span>87</span></div>
<div class="t " style="left:326px;top:725px;width:63px;height:18px;justify-content:center;padding-left:0px;text-align:center"><span>9</span></div>
<div class="t " style="left:390px;top:725px;width:68px;height:18px;justify-content:center;padding-left:0px;text-align:center"><span>1022</span></div>
<div class="t " style="left:459px;top:725px;width:66px;height:18px;justify-content:center;padding-left:0px;text-align:center"><span>65</span></div>
<div class="t " style="left:526px;top:725px;width:62px;height:18px;justify-content:center;padding-left:0px;text-align:center"><span>38</span></div>
<div class="t " style="left:589px;top:725px;width:69px;height:18px;justify-content:center;padding-left:0px;text-align:center"><span>111,8</span></div>
<div class="t " style="left:659px;top:725px;width:68px;height:18px;justify-content:center;padding-left:0px;text-align:center"><span>111,7</span></div>
<div class="t " style="left:728px;top:725px;width:72px;height:18px;justify-content:center;padding-left:0px;text-align:center"><span>166,9</span></div>
<div class="t " style="left:801px;top:725px;width:79px;height:18px;justify-content:center;padding-left:0px;text-align:center"><span>80,9</span></div>
<div class="t " style="left:881px;top:725px;width:71px;height:18px;justify-content:center;padding-left:0px;text-align:center"><span>130,8</span></div>
<div class="t " style="left:952px;top:725px;width:126px;height:18px;justify-content:flex-start;padding-left:5px;text-align:left"><span>KS Zweibrücken</span></div>
<div class="t b" style="left:7px;top:744px;width:125px;height:19px;justify-content:flex-start;padding-left:4px;text-align:left"><span>Rheinland-Pfalz</span></div>
<div class="t b" style="left:134px;top:744px;width:65px;height:19px;justify-content:center;padding-left:0px;text-align:center"><span>194440</span></div>
<div class="t b" style="left:200px;top:744px;width:62px;height:19px;justify-content:center;padding-left:0px;text-align:center"><span>628</span></div>
<div class="t b" style="left:263px;top:744px;width:62px;height:19px;justify-content:center;padding-left:0px;text-align:center"><span>10897</span></div>
<div class="t b" style="left:326px;top:744px;width:63px;height:19px;justify-content:center;padding-left:0px;text-align:center"><span>4104</span></div>
<div class="t b" style="left:390px;top:744px;width:68px;height:19px;justify-content:center;padding-left:0px;text-align:center"><span>181336 #</span></div>
<div class="t b" style="left:459px;top:744px;width:66px;height:19px;justify-content:center;padding-left:0px;text-align:center"><span>9000</span></div>
<div class="t b" style="left:526px;top:744px;width:62px;height:19px;justify-content:center;padding-left:0px;text-align:center"><span>3650</span></div>
<div class="t b" style="left:589px;top:744px;width:69px;height:19px;justify-content:center;padding-left:0px;text-align:center"><span>89,1</span></div>
<div class="t b" style="left:659px;top:744px;width:68px;height:19px;justify-content:center;padding-left:0px;text-align:center"><span>88,2</span></div>
<div class="t b" style="left:728px;top:744px;width:72px;height:19px;justify-content:center;padding-left:0px;text-align:center"><span>139,8</span></div>
<div class="t b" style="left:801px;top:744px;width:79px;height:19px;justify-content:center;padding-left:0px;text-align:center"><span>92,4</span></div>
<div class="t b" style="left:881px;top:744px;width:71px;height:19px;justify-content:center;padding-left:0px;text-align:center"><span>52,0</span></div>
<div class="t b" style="left:952px;top:744px;width:126px;height:19px;justify-content:flex-start;padding-left:5px;text-align:left"><span>Rheinland-Pfalz</span></div>
</div></body></html>
